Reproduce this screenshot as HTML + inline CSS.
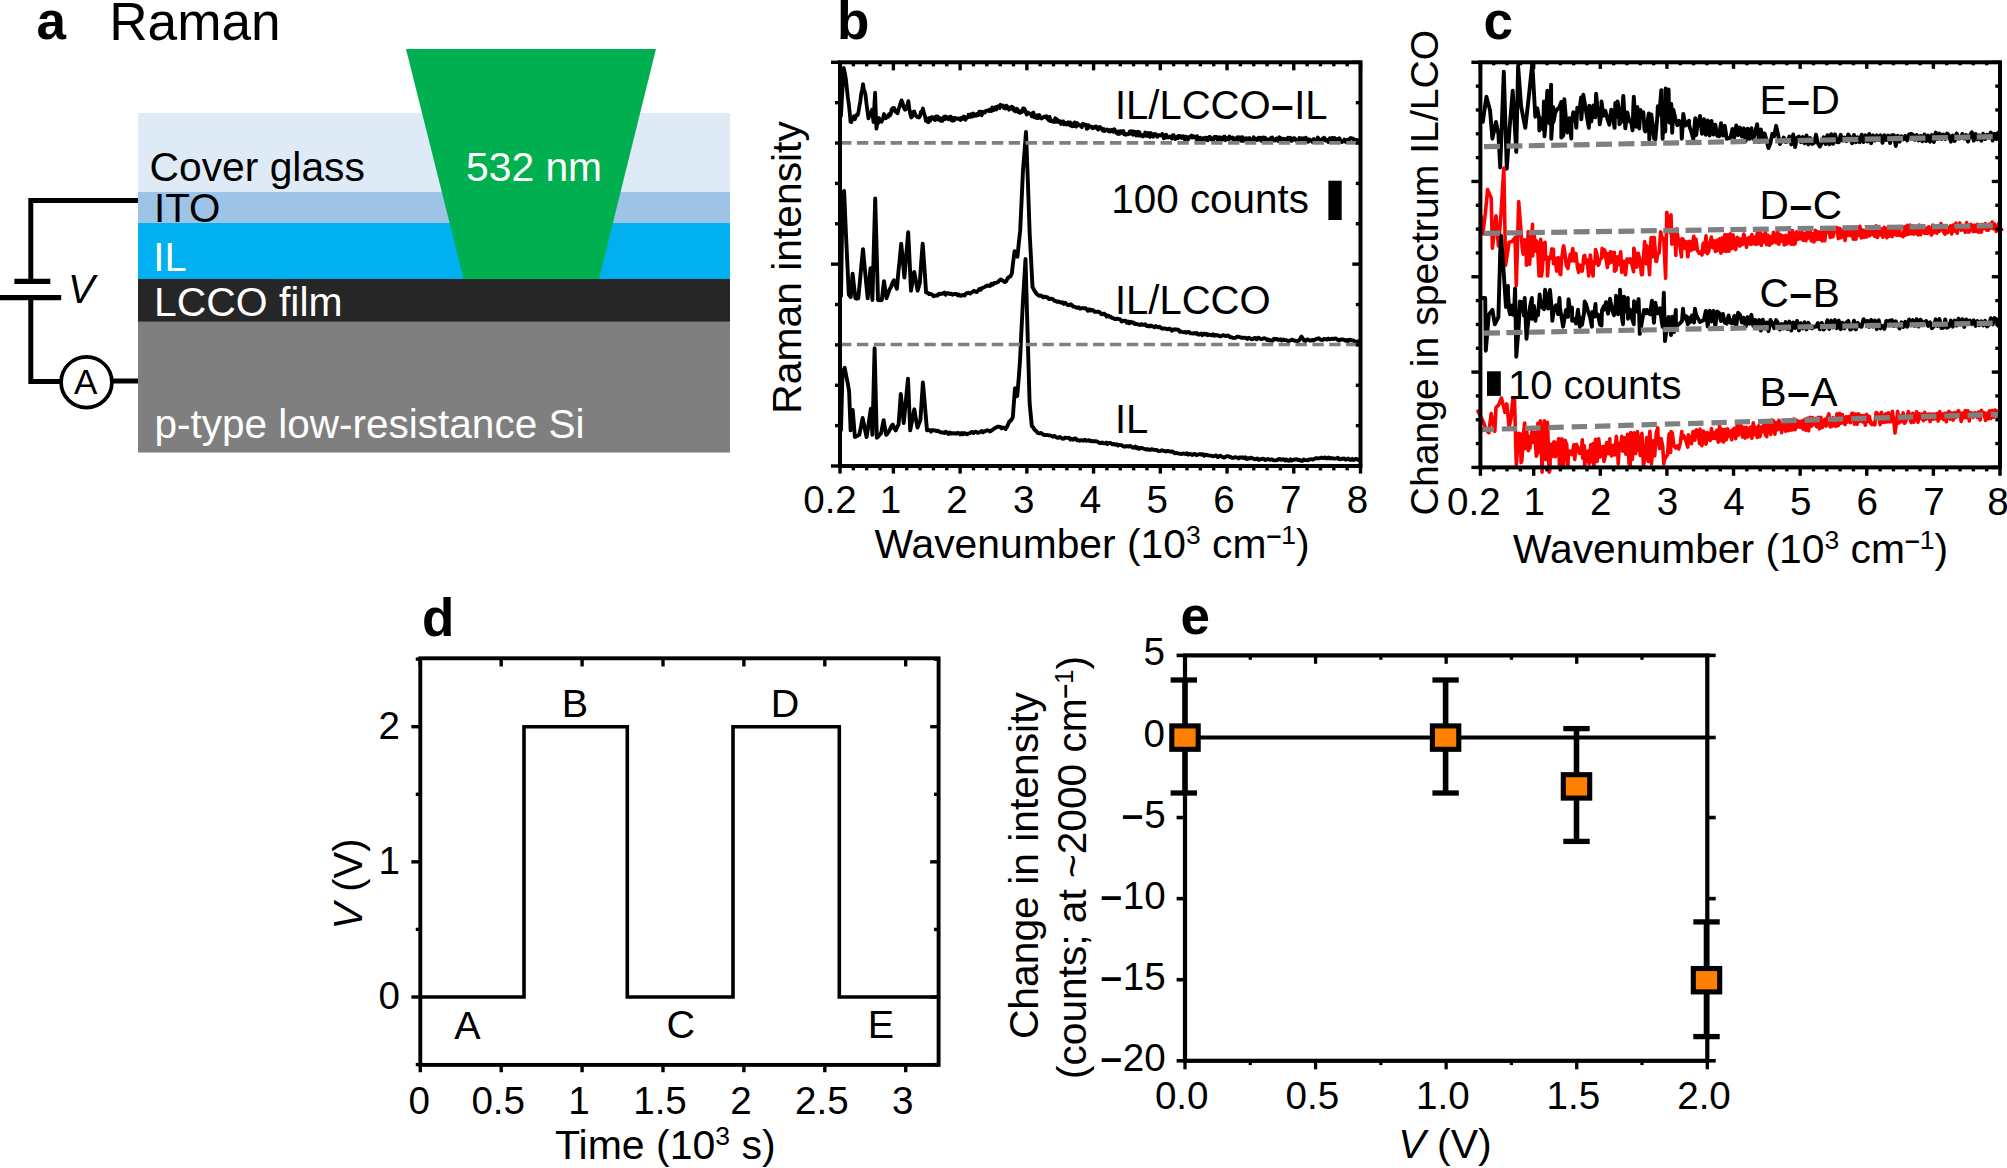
<!DOCTYPE html>
<html lang="en"><head><meta charset="utf-8"><title>Raman figure</title>
<style>html,body{margin:0;padding:0;background:#fff;}body{width:2007px;height:1168px;overflow:hidden;}svg{display:block;}</style>
</head><body>
<svg width="2007" height="1168" viewBox="0 0 2007 1168" font-family='"Liberation Sans", sans-serif'>
<rect width="2007" height="1168" fill="#fff"/>
<g id="panel-a">
<rect x="138" y="113" width="592" height="79.5" fill="#DEEAF6"/>
<rect x="138" y="192" width="592" height="31.5" fill="#9DC3E6"/>
<rect x="138" y="223" width="592" height="56" fill="#00B0F0"/>
<rect x="138" y="279" width="592" height="43" fill="#262626"/>
<rect x="138" y="321.6" width="592" height="130.9" fill="#7F7F7F"/>
<polygon points="406,49 656,49 599,279 463.6,279" fill="#00B050"/>
<path d="M138,200.5 H30.8 V281.5 M30.8,297.5 V381.5 H62 M111,381 H138" fill="none" stroke="#000" stroke-width="5"/>
<line x1="14.40" y1="281.40" x2="50.30" y2="281.40" stroke="#000" stroke-width="5.2"/>
<line x1="0.00" y1="297.60" x2="61.20" y2="297.60" stroke="#000" stroke-width="5.2"/>
<circle cx="86.5" cy="382.2" r="25.4" fill="#fff" stroke="#000" stroke-width="3.7"/>
<text x="85.6" y="394.4" font-size="35" text-anchor="middle">A</text>
<text x="68" y="303" font-size="40" font-style="italic">V</text>
<text x="36.5" y="38.8" font-size="53" font-weight="bold">a</text>
<text x="109.2" y="40.2" font-size="53.2">Raman</text>
<text x="149.5" y="181" font-size="40.8">Cover glass</text>
<text x="154" y="222" font-size="40.3">ITO</text>
<text x="153.3" y="270.7" font-size="40" fill="#fff">IL</text>
<text x="154" y="316.3" font-size="40.9" fill="#fff">LCCO film</text>
<text x="154.5" y="437.6" font-size="40.5" fill="#fff">p-type low-resistance Si</text>
<text x="466" y="180.7" font-size="40.8" fill="#fff">532 nm</text>
</g>
<g id="panel-b">
<polyline points="841.0,116.0 841.9,98.7 842.8,84.1 843.7,67.8 844.9,73.3 846.0,80.0 846.9,88.8 847.8,97.3 848.7,103.1 849.6,111.2 850.5,121.8 851.3,122.1 852.2,118.2 853.0,118.0 853.9,116.3 854.8,119.3 855.7,116.6 856.6,114.9 857.6,115.1 858.5,112.0 859.4,106.3 860.3,101.5 861.2,93.7 862.1,90.3 863.0,84.1 863.8,89.4 864.7,91.5 865.5,95.0 866.5,103.9 867.5,111.4 868.5,118.4 869.4,114.2 870.2,115.3 871.1,112.4 872.0,109.8 873.5,122.0 874.3,106.4 875.1,92.7 876.4,128.6 877.3,122.9 878.1,123.2 879.0,118.0 880.2,119.8 881.4,121.8 882.3,120.2 883.1,118.3 884.0,114.0 884.8,116.2 885.7,118.3 886.5,117.5 887.4,116.0 888.2,116.8 889.1,114.1 889.9,115.3 890.8,114.0 891.6,109.4 892.5,108.5 893.3,107.8 894.2,108.1 895.1,111.5 895.9,110.4 896.8,112.5 897.6,113.2 898.6,109.1 899.5,106.8 900.5,103.1 901.5,100.4 902.4,102.1 903.2,105.5 904.0,107.8 904.9,109.8 905.8,109.5 906.6,106.3 907.4,105.3 908.3,101.2 909.3,108.3 910.3,114.3 911.3,117.5 912.3,116.3 913.3,112.0 914.3,111.5 915.2,114.4 916.2,116.0 917.1,117.0 918.1,116.6 919.0,117.5 920.0,116.2 921.0,111.7 921.9,112.3 922.9,108.5 923.9,113.0 924.9,115.8 925.9,120.9 926.8,118.6 927.6,121.9 928.5,122.2 929.3,117.8 930.1,120.7 931.0,118.6 931.9,117.1 932.7,118.4 933.5,117.5 934.3,119.7 935.2,120.2 936.0,116.4 936.8,119.0 937.6,116.4 938.4,119.5 939.3,117.8 940.1,120.3 940.9,120.8 941.7,118.6 942.5,120.9 943.3,117.8 944.2,116.7 945.0,119.1 945.8,116.5 946.6,117.3 947.4,118.3 948.3,119.3 949.1,117.2 949.9,118.8 950.7,116.6 951.5,120.4 952.3,117.8 953.2,120.7 954.0,120.3 954.8,117.9 955.6,118.2 956.4,118.4 957.2,118.9 958.0,118.6 958.9,118.4 959.7,118.6 960.5,120.0 961.3,118.0 962.1,117.6 962.9,118.8 963.7,116.5 964.6,116.8 965.4,119.8 966.2,117.7 967.0,117.5 967.8,117.5 968.6,114.8 969.4,116.4 970.3,116.9 971.1,114.1 971.9,116.6 972.7,116.4 973.5,113.5 974.3,115.9 975.1,114.9 976.0,115.7 976.8,113.9 977.6,115.3 978.4,115.2 979.2,111.7 980.0,111.6 980.8,114.2 981.7,115.3 982.5,111.7 983.3,112.4 984.1,112.4 984.9,112.5 985.8,111.0 986.6,110.9 987.4,110.4 988.2,110.4 989.1,111.1 989.9,109.5 990.7,109.5 991.5,111.1 992.4,107.4 993.2,109.6 994.0,110.0 994.9,107.8 995.7,107.1 996.5,109.5 997.3,106.6 998.2,106.1 999.0,106.9 999.8,107.9 1000.6,104.8 1001.5,105.6 1002.3,106.1 1003.1,105.6 1004.0,108.1 1004.8,106.5 1005.7,108.6 1006.5,105.7 1007.4,106.7 1008.2,108.4 1009.1,109.7 1009.9,107.9 1010.8,107.1 1011.6,106.8 1012.5,109.0 1013.3,107.6 1014.2,110.7 1015.0,109.5 1015.9,111.4 1016.8,108.7 1017.6,109.4 1018.5,112.2 1019.4,111.7 1020.2,112.8 1021.1,111.0 1022.0,112.0 1023.0,108.5 1024.0,108.5 1025.0,109.8 1026.0,113.0 1026.8,114.6 1027.6,112.4 1028.5,112.9 1029.3,113.4 1030.1,113.7 1030.9,113.8 1031.8,116.4 1032.6,113.1 1033.4,112.6 1034.2,117.1 1035.1,117.0 1035.9,117.7 1036.7,115.4 1037.5,118.0 1038.4,118.1 1039.2,115.0 1040.0,116.5 1040.8,117.8 1041.6,118.5 1042.4,117.9 1043.2,117.4 1044.0,116.6 1044.8,117.0 1045.6,116.7 1046.4,116.2 1047.2,118.8 1048.0,117.6 1048.8,120.2 1049.6,116.9 1050.4,121.1 1051.2,120.3 1052.0,121.6 1052.8,121.7 1053.7,121.9 1054.5,120.6 1055.3,118.2 1056.1,121.8 1056.9,119.4 1057.7,120.2 1058.5,122.1 1059.3,121.6 1060.1,121.3 1060.9,124.0 1061.7,122.7 1062.5,121.6 1063.3,121.4 1064.1,124.4 1064.9,122.9 1065.7,123.2 1066.5,124.6 1067.3,122.8 1068.1,122.2 1068.9,123.9 1069.8,125.3 1070.6,122.5 1071.4,125.5 1072.2,126.2 1073.0,125.8 1073.8,126.0 1074.6,122.4 1075.4,125.4 1076.2,126.6 1077.1,123.0 1077.9,124.2 1078.7,124.3 1079.5,125.6 1080.3,125.3 1081.1,125.6 1081.9,127.2 1082.7,123.7 1083.6,124.1 1084.4,124.6 1085.2,124.7 1086.0,124.6 1086.8,128.9 1087.6,128.5 1088.4,125.1 1089.2,127.1 1090.0,126.4 1090.9,126.5 1091.7,126.8 1092.5,128.3 1093.3,128.2 1094.1,127.3 1094.9,126.6 1095.7,127.4 1096.5,126.6 1097.3,128.7 1098.2,129.6 1099.0,128.2 1099.8,126.9 1100.6,127.5 1101.4,128.5 1102.2,129.7 1103.0,130.7 1103.8,129.0 1104.6,131.0 1105.5,130.3 1106.3,129.6 1107.1,129.5 1107.9,130.2 1108.7,131.3 1109.5,130.1 1110.3,131.5 1111.1,130.5 1112.0,129.7 1112.8,131.2 1113.6,132.0 1114.4,129.3 1115.2,131.0 1116.0,131.2 1116.8,133.4 1117.6,133.8 1118.4,131.4 1119.3,133.9 1120.1,133.5 1120.9,131.2 1121.7,132.3 1122.5,132.6 1123.3,130.9 1124.1,134.2 1124.9,133.6 1125.7,134.7 1126.6,134.3 1127.4,133.8 1128.2,134.2 1129.0,133.4 1129.8,131.4 1130.6,133.7 1131.4,131.1 1132.2,131.8 1133.0,134.8 1133.9,131.5 1134.7,131.8 1135.5,131.9 1136.3,135.5 1137.1,132.4 1137.9,131.7 1138.7,135.5 1139.5,132.3 1140.4,135.7 1141.2,135.0 1142.0,135.8 1142.8,136.4 1143.6,134.7 1144.4,135.8 1145.2,132.4 1146.0,135.8 1146.8,134.7 1147.7,135.7 1148.5,133.0 1149.3,136.0 1150.1,136.9 1150.9,133.0 1151.7,134.3 1152.5,135.4 1153.3,136.7 1154.1,134.1 1155.0,133.9 1155.8,134.3 1156.6,136.0 1157.4,136.7 1158.2,135.1 1159.0,135.1 1159.8,135.3 1160.6,135.1 1161.4,135.5 1162.3,134.0 1163.1,136.0 1163.9,138.3 1164.7,135.8 1165.5,137.4 1166.3,134.7 1167.1,137.2 1167.9,137.6 1168.8,137.3 1169.6,136.7 1170.4,136.6 1171.2,137.4 1172.0,138.6 1172.8,135.2 1173.6,135.1 1174.4,138.1 1175.2,139.0 1176.1,137.2 1176.9,136.9 1177.7,138.3 1178.5,135.9 1179.3,137.4 1180.1,136.4 1180.9,136.1 1181.7,137.9 1182.5,136.6 1183.3,136.3 1184.2,138.4 1185.0,139.6 1185.8,136.6 1186.6,138.5 1187.4,137.2 1188.2,139.3 1189.0,138.0 1189.8,136.6 1190.6,136.4 1191.5,135.5 1192.3,137.6 1193.1,137.2 1193.9,136.3 1194.7,137.2 1195.5,137.0 1196.3,139.1 1197.1,136.2 1197.9,140.2 1198.7,137.8 1199.5,138.4 1200.4,137.8 1201.2,139.5 1202.0,139.5 1202.8,138.3 1203.6,138.0 1204.4,139.1 1205.2,139.7 1206.0,137.6 1206.8,139.2 1207.7,140.3 1208.5,138.0 1209.3,136.9 1210.1,137.0 1210.9,139.2 1211.7,139.1 1212.5,140.4 1213.3,139.9 1214.1,137.1 1214.9,136.9 1215.8,137.3 1216.6,136.9 1217.4,139.3 1218.2,140.1 1219.0,140.3 1219.8,137.3 1220.6,140.2 1221.4,137.7 1222.2,138.2 1223.0,139.6 1223.8,136.7 1224.7,136.7 1225.5,140.2 1226.3,137.7 1227.1,138.0 1227.9,139.1 1228.7,139.5 1229.5,136.5 1230.3,138.0 1231.1,138.5 1232.0,138.7 1232.8,137.5 1233.6,139.2 1234.4,141.0 1235.2,138.4 1236.0,138.9 1236.8,139.1 1237.6,137.2 1238.4,137.9 1239.2,139.7 1240.0,137.2 1240.8,140.7 1241.6,140.8 1242.4,137.1 1243.2,141.0 1244.0,138.4 1244.8,140.3 1245.6,140.2 1246.4,138.1 1247.2,139.8 1248.0,139.8 1248.8,140.5 1249.6,138.0 1250.5,140.2 1251.3,141.2 1252.1,139.9 1252.9,139.3 1253.7,137.3 1254.5,139.1 1255.3,138.5 1256.1,140.1 1256.9,140.0 1257.7,139.5 1258.5,137.7 1259.3,139.9 1260.1,139.8 1260.9,137.7 1261.7,141.0 1262.5,139.9 1263.3,137.5 1264.1,141.2 1264.9,137.6 1265.7,138.5 1266.5,140.3 1267.3,139.7 1268.1,139.5 1268.9,140.0 1269.7,139.1 1270.5,138.5 1271.3,137.8 1272.1,137.4 1272.9,140.3 1273.7,140.5 1274.5,139.6 1275.3,140.5 1276.1,138.7 1276.9,138.3 1277.7,138.9 1278.5,141.1 1279.4,137.3 1280.2,139.5 1281.0,138.3 1281.8,140.7 1282.6,138.8 1283.4,138.7 1284.2,139.0 1285.0,139.7 1285.8,140.8 1286.6,138.8 1287.4,141.1 1288.2,137.8 1289.0,138.5 1289.8,137.7 1290.6,137.8 1291.4,140.9 1292.2,140.6 1293.0,139.6 1293.8,138.2 1294.6,138.2 1295.4,139.2 1296.2,140.7 1297.0,141.1 1297.8,140.8 1298.6,140.1 1299.4,138.0 1300.2,139.2 1301.0,138.3 1301.8,139.8 1302.6,140.0 1303.4,138.3 1304.2,138.6 1305.0,141.0 1305.8,137.6 1306.6,141.1 1307.4,141.5 1308.2,141.8 1309.0,139.2 1309.9,140.0 1310.7,140.1 1311.5,140.4 1312.3,142.0 1313.1,140.6 1313.9,138.9 1314.7,141.5 1315.5,139.7 1316.3,140.3 1317.1,140.9 1317.9,137.5 1318.7,141.1 1319.5,140.6 1320.3,139.8 1321.1,140.0 1321.9,139.7 1322.7,138.5 1323.5,140.0 1324.3,137.8 1325.1,139.9 1325.9,140.6 1326.7,139.7 1327.5,140.2 1328.3,142.0 1329.1,141.7 1329.9,138.3 1330.7,141.3 1331.5,140.5 1332.3,137.9 1333.1,139.3 1333.9,138.8 1334.7,138.0 1335.5,140.2 1336.3,142.0 1337.1,139.2 1337.9,141.7 1338.7,140.9 1339.5,138.3 1340.3,141.7 1341.1,140.5 1342.0,142.0 1342.8,141.1 1343.6,141.2 1344.4,139.4 1345.2,141.5 1346.0,142.1 1346.8,141.8 1347.6,139.8 1348.4,141.3 1349.2,140.0 1350.0,138.3 1350.8,138.0 1351.6,138.2 1352.4,138.8 1353.2,138.6 1354.0,140.1 1354.8,141.1 1355.6,140.3 1356.4,139.8 1357.2,140.9 1358.0,140.2" fill="none" stroke="#000" stroke-width="3.8" stroke-linejoin="round" stroke-linecap="round"/>
<polyline points="841.0,296.0 842.5,200.0 844.1,190.9 846.0,235.0 847.4,264.3 848.8,294.5 850.7,297.0 852.6,273.7 854.0,285.9 855.4,298.2 856.8,298.8 858.3,298.2 859.9,281.6 861.4,264.8 863.0,249.2 864.6,266.4 866.1,282.3 867.7,298.2 869.1,282.9 870.5,268.1 872.4,300.0 873.8,248.9 875.2,198.4 876.6,249.3 878.0,300.0 879.9,300.2 881.8,300.0 884.0,281.3 886.5,298.2 888.0,293.9 889.5,289.6 891.0,287.0 892.5,283.0 894.0,280.3 895.5,285.2 896.9,288.8 898.3,272.9 899.8,258.6 901.2,243.6 902.8,259.9 904.4,277.5 906.3,254.3 908.2,232.3 909.6,260.8 911.0,290.7 912.6,281.1 914.2,271.9 915.9,280.6 917.6,290.7 919.8,283.0 921.2,262.3 922.7,243.6 924.4,267.2 926.1,292.6 927.6,292.6 929.1,294.1 930.6,293.9 932.1,294.5 933.6,296.3 934.9,295.8 936.3,295.3 937.6,295.5 939.0,293.7 940.3,294.1 941.7,293.7 943.0,293.5 944.4,292.6 945.7,294.8 947.0,293.3 948.4,293.2 949.8,294.1 951.1,293.6 952.5,294.7 953.8,294.2 955.1,293.9 956.5,293.9 957.9,295.5 959.2,294.6 960.5,295.9 961.9,295.4 963.2,294.9 964.6,295.5 965.9,293.7 967.3,293.2 968.6,292.8 970.0,293.6 971.3,292.8 972.6,291.8 974.0,290.8 975.3,291.7 976.7,292.0 978.0,290.7 979.4,289.0 980.7,289.7 982.0,288.0 983.4,287.5 984.7,287.0 986.1,286.0 987.4,285.4 988.8,286.0 990.1,285.9 991.4,283.7 992.8,284.7 994.1,282.9 995.5,283.0 996.8,282.6 998.2,281.9 999.5,280.3 1000.8,279.5 1002.1,280.3 1003.5,281.1 1004.8,282.1 1006.1,281.3 1007.5,278.5 1009.0,277.0 1010.4,276.4 1011.8,273.7 1013.2,261.6 1014.6,251.1 1016.0,253.7 1017.4,256.8 1018.8,243.2 1020.2,230.4 1021.6,200.6 1023.0,170.0 1024.5,151.9 1026.0,132.0 1028.0,185.0 1029.7,234.2 1031.1,259.8 1032.5,286.9 1034.1,290.0 1035.6,292.5 1037.2,294.5 1038.9,295.7 1040.6,295.5 1042.0,296.1 1043.3,297.4 1044.7,296.6 1046.1,297.2 1047.4,297.3 1048.8,299.0 1050.2,298.8 1051.5,298.8 1052.9,299.1 1054.3,300.8 1055.6,301.0 1057.0,301.7 1058.4,301.5 1059.7,302.2 1061.1,302.7 1062.4,302.3 1063.8,303.9 1065.1,302.7 1066.5,304.0 1067.8,305.0 1069.2,305.2 1070.5,304.3 1071.8,305.0 1073.2,306.6 1074.5,306.6 1075.9,307.4 1077.2,307.8 1078.5,307.2 1079.9,308.5 1081.2,308.5 1082.6,308.0 1083.9,308.4 1085.3,308.1 1086.6,309.2 1087.9,310.8 1089.3,309.3 1090.6,310.6 1092.0,310.0 1093.3,310.3 1094.7,311.9 1096.0,311.9 1097.3,311.8 1098.7,311.8 1100.0,312.5 1101.4,314.1 1102.7,314.4 1104.0,313.6 1105.4,314.6 1106.7,316.6 1108.1,315.5 1109.4,316.7 1110.7,316.8 1112.1,318.1 1113.4,318.2 1114.8,319.0 1116.1,319.0 1117.4,318.7 1118.8,319.1 1120.1,319.3 1121.5,321.5 1122.8,321.2 1124.1,320.6 1125.5,320.6 1126.8,322.9 1128.1,321.5 1129.4,323.2 1130.8,321.7 1132.1,322.7 1133.4,322.4 1134.7,324.0 1136.1,323.8 1137.4,324.1 1138.7,324.6 1140.0,325.0 1141.4,324.1 1142.7,324.9 1144.0,324.8 1145.3,324.3 1146.7,326.1 1148.0,325.8 1149.3,326.5 1150.6,325.4 1152.0,326.4 1153.3,326.5 1154.6,327.3 1155.9,326.1 1157.3,326.9 1158.6,327.4 1159.9,326.8 1161.2,328.1 1162.6,328.7 1163.9,328.4 1165.2,328.4 1166.6,329.1 1167.9,329.2 1169.2,328.6 1170.5,329.1 1171.9,330.7 1173.2,329.4 1174.5,329.8 1175.8,329.3 1177.2,329.7 1178.5,329.8 1179.8,331.7 1181.1,331.5 1182.5,332.0 1183.8,332.4 1185.1,331.8 1186.4,332.7 1187.8,332.0 1189.1,332.0 1190.4,333.3 1191.7,333.4 1193.1,333.7 1194.4,332.9 1195.7,333.7 1197.0,333.1 1198.4,334.6 1199.7,334.6 1201.0,333.5 1202.3,335.1 1203.7,333.6 1205.0,334.5 1206.3,333.7 1207.6,335.2 1209.0,334.4 1210.3,335.0 1211.6,335.4 1212.9,334.2 1214.3,335.8 1215.6,334.9 1216.9,335.4 1218.2,335.3 1219.5,336.3 1220.9,336.4 1222.2,335.5 1223.5,335.2 1224.8,335.8 1226.2,336.1 1227.5,335.5 1228.8,335.8 1230.1,337.2 1231.5,337.2 1232.8,337.9 1234.1,338.0 1235.4,337.9 1236.7,336.9 1238.1,336.6 1239.4,337.0 1240.7,337.5 1242.0,337.7 1243.4,337.9 1244.7,337.6 1246.0,338.0 1247.3,338.9 1248.7,337.7 1250.0,338.2 1251.3,339.2 1252.6,339.1 1254.0,338.1 1255.3,338.0 1256.6,339.4 1258.0,337.7 1259.3,338.1 1260.6,339.0 1261.9,339.1 1263.3,338.4 1264.6,338.2 1265.9,338.7 1267.3,340.0 1268.6,339.4 1269.9,340.6 1271.3,340.3 1272.6,340.8 1273.9,338.8 1275.2,339.2 1276.6,338.9 1277.9,339.9 1279.2,339.8 1280.6,339.3 1281.9,340.5 1283.2,339.5 1284.5,340.1 1285.9,340.1 1287.2,340.7 1288.5,341.3 1289.8,340.5 1291.1,340.1 1292.4,339.6 1293.8,340.4 1295.1,340.8 1296.4,340.9 1297.7,341.4 1299.0,340.5 1301.5,336.6 1304.0,340.5 1305.3,341.1 1306.7,339.7 1308.0,339.4 1309.4,340.6 1310.8,340.6 1312.1,339.9 1313.5,340.5 1314.8,339.8 1316.2,339.1 1317.5,338.7 1318.8,338.3 1320.2,339.5 1321.5,340.0 1322.9,339.9 1324.2,338.8 1325.6,339.2 1327.0,339.6 1328.3,338.6 1329.6,339.4 1330.9,339.0 1332.3,338.7 1333.6,339.1 1334.9,338.4 1336.2,338.6 1337.6,339.8 1338.9,340.6 1340.2,339.7 1341.5,339.5 1342.8,339.5 1344.2,339.8 1345.5,340.7 1346.8,340.0 1348.1,341.2 1349.4,339.6 1350.8,340.0 1352.1,340.6 1353.4,340.5 1354.7,341.5 1356.1,341.6 1357.4,341.9 1358.7,341.1" fill="none" stroke="#000" stroke-width="3.9" stroke-linejoin="round" stroke-linecap="round"/>
<polyline points="841.0,430.0 842.5,372.0 844.7,367.8 846.2,375.8 847.6,382.5 849.1,391.1 850.6,430.4 852.7,410.0 854.9,437.0 856.4,436.4 857.8,435.6 859.3,434.8 861.0,426.4 862.6,418.0 863.9,423.9 865.3,431.0 866.6,437.0 868.0,428.3 869.5,417.4 870.9,408.6 872.4,434.8 874.6,348.2 876.8,437.7 878.2,436.5 879.7,434.5 881.1,433.3 883.6,420.2 884.9,427.5 886.2,434.8 887.5,433.5 888.8,431.5 890.2,428.9 891.5,426.1 892.8,424.6 894.2,428.3 895.7,430.4 897.2,426.9 898.6,424.6 900.8,394.0 902.2,408.3 903.7,423.1 905.1,408.9 906.6,393.2 908.0,378.8 910.2,430.4 911.6,423.0 912.9,417.1 914.3,409.3 915.9,419.2 917.5,427.5 919.0,423.5 920.4,420.2 922.9,382.4 924.3,398.2 925.6,414.0 927.0,430.4 928.3,429.8 929.7,430.2 931.0,431.6 932.4,430.0 933.7,430.4 935.1,430.5 936.4,431.1 937.7,430.6 939.1,431.6 940.4,432.2 941.7,432.6 943.0,432.5 944.4,433.0 945.7,431.8 947.0,432.5 948.3,434.0 949.7,432.6 951.0,433.6 952.3,433.2 953.6,433.6 955.0,433.2 956.3,433.7 957.6,432.8 958.9,433.1 960.2,434.4 961.5,433.0 962.9,434.3 964.2,433.0 965.5,433.6 966.8,434.3 968.2,433.6 969.5,433.4 970.8,432.3 972.1,432.0 973.5,433.1 974.8,431.9 976.1,431.8 977.4,432.8 978.8,432.7 980.1,431.9 981.6,430.9 983.0,432.4 984.5,431.4 985.9,430.9 987.4,430.3 988.8,430.6 990.2,431.5 991.7,430.4 993.2,429.3 994.6,428.3 996.1,427.6 997.5,426.8 999.0,426.8 1000.3,427.0 1001.6,428.4 1003.0,427.4 1004.3,428.0 1005.6,429.0 1007.4,426.1 1009.2,421.7 1011.0,420.4 1012.8,417.3 1015.0,388.2 1017.2,396.2 1018.7,378.5 1020.1,359.1 1021.5,329.1 1023.0,300.0 1025.5,259.0 1027.5,330.0 1029.6,402.8 1031.8,426.0 1033.1,427.2 1034.4,429.7 1035.7,430.4 1037.0,432.2 1038.3,433.3 1039.6,433.2 1041.0,433.0 1042.3,433.8 1043.7,434.8 1045.0,435.1 1046.3,435.0 1047.7,435.0 1049.0,435.4 1050.4,435.5 1051.7,436.0 1053.1,436.7 1054.4,435.9 1055.7,436.8 1057.1,437.7 1058.4,437.8 1059.8,436.9 1061.1,437.7 1062.4,438.7 1063.8,438.6 1065.1,437.6 1066.4,437.9 1067.7,437.9 1069.1,437.8 1070.4,439.6 1071.7,438.7 1073.0,439.7 1074.4,438.5 1075.7,438.5 1077.0,440.2 1078.3,440.2 1079.7,440.7 1081.0,440.3 1082.3,440.2 1083.6,440.8 1085.0,439.7 1086.3,440.7 1087.6,440.6 1088.9,440.2 1090.3,441.2 1091.6,440.9 1092.9,441.4 1094.2,441.3 1095.6,441.3 1096.9,441.5 1098.2,442.1 1099.5,443.0 1100.9,443.0 1102.2,442.4 1103.5,443.3 1104.9,443.4 1106.2,442.6 1107.5,444.1 1108.8,443.0 1110.2,442.9 1111.5,443.8 1112.8,444.4 1114.1,443.9 1115.5,444.7 1116.8,444.2 1118.1,445.6 1119.4,444.9 1120.8,445.2 1122.1,445.5 1123.4,446.3 1124.7,446.7 1126.1,446.1 1127.4,446.1 1128.7,446.6 1130.0,445.8 1131.4,446.7 1132.7,447.6 1134.0,447.7 1135.3,446.6 1136.7,448.2 1138.0,447.6 1139.3,448.9 1140.6,448.0 1142.0,447.9 1143.3,448.6 1144.6,448.9 1146.0,449.6 1147.3,449.0 1148.6,449.9 1149.9,449.8 1151.3,449.3 1152.6,449.4 1153.9,449.9 1155.2,449.9 1156.6,450.0 1157.9,450.7 1159.2,451.2 1160.5,450.9 1161.9,450.3 1163.2,450.6 1164.5,451.0 1165.8,451.6 1167.2,450.9 1168.5,451.0 1169.8,451.6 1171.1,451.7 1172.5,451.4 1173.8,452.5 1175.1,453.3 1176.4,452.8 1177.8,453.3 1179.1,453.6 1180.4,453.8 1181.7,454.1 1183.1,453.4 1184.4,453.7 1185.7,454.1 1187.1,453.2 1188.4,454.7 1189.7,453.9 1191.0,454.2 1192.4,455.0 1193.7,454.0 1195.0,453.9 1196.3,455.2 1197.7,454.9 1199.0,454.1 1200.3,454.1 1201.6,454.7 1203.0,454.2 1204.3,455.8 1205.6,454.7 1206.9,455.0 1208.3,455.3 1209.6,455.6 1210.9,455.6 1212.2,456.0 1213.6,456.2 1214.9,455.9 1216.2,455.4 1217.5,457.1 1218.9,456.6 1220.2,455.7 1221.5,456.4 1222.8,457.1 1224.2,457.6 1225.5,456.8 1226.8,456.1 1228.2,456.1 1229.5,457.0 1230.8,457.0 1232.1,457.9 1233.5,457.9 1234.8,457.1 1236.1,457.4 1237.4,457.7 1238.8,458.4 1240.1,457.2 1241.4,457.7 1242.7,457.2 1244.1,458.3 1245.4,457.3 1246.7,459.0 1248.0,458.3 1249.4,458.5 1250.7,457.7 1252.0,458.1 1253.3,458.6 1254.7,459.4 1256.0,458.9 1257.3,458.5 1258.6,459.8 1260.0,459.4 1261.3,459.2 1262.6,458.7 1263.9,459.0 1265.3,460.1 1266.6,459.5 1267.9,458.9 1269.3,459.6 1270.6,459.8 1271.9,459.3 1273.2,460.1 1274.6,460.4 1275.9,460.3 1277.2,460.1 1278.5,459.2 1279.9,459.0 1281.2,459.7 1282.5,459.5 1283.8,459.3 1285.2,460.5 1286.5,459.4 1287.8,460.5 1289.1,460.7 1290.5,459.3 1291.8,460.7 1293.1,459.8 1294.4,459.5 1295.8,459.5 1297.1,459.3 1298.4,460.1 1299.7,459.9 1301.1,460.8 1302.4,460.8 1303.7,459.4 1305.0,460.1 1306.4,460.1 1307.7,460.3 1309.0,459.5 1310.3,459.4 1311.6,459.2 1312.9,459.7 1314.2,458.9 1315.6,458.2 1316.9,458.2 1318.2,458.4 1319.5,458.4 1320.8,457.6 1322.1,457.8 1323.4,458.2 1324.7,457.4 1326.0,458.3 1327.3,458.2 1328.6,457.5 1329.9,458.6 1331.2,458.0 1332.6,458.4 1333.9,458.5 1335.2,458.6 1336.5,458.4 1337.8,457.7 1339.1,459.1 1340.4,459.3 1341.7,458.7 1343.0,458.9 1344.3,458.4 1345.6,459.6 1346.9,459.3 1348.2,458.5 1349.5,459.6 1350.9,460.0 1352.2,458.9 1353.5,460.1 1354.8,459.3 1356.1,458.8 1357.4,459.8 1358.7,459.5" fill="none" stroke="#000" stroke-width="3.9" stroke-linejoin="round" stroke-linecap="round"/>
<line x1="840.00" y1="142.90" x2="1360.50" y2="142.90" stroke="#7F7F7F" stroke-width="3.6" stroke-dasharray="11.4 5.47"/>
<line x1="840.00" y1="344.50" x2="1360.50" y2="344.50" stroke="#7F7F7F" stroke-width="3.6" stroke-dasharray="11.4 5.47"/>
<rect x="840.0" y="62.3" width="520.5" height="403.7" fill="none" stroke="#000" stroke-width="4.0"/>
<line x1="840.00" y1="62.30" x2="840.00" y2="70.30" stroke="#000" stroke-width="3.4"/>
<line x1="840.00" y1="466.00" x2="840.00" y2="473.60" stroke="#000" stroke-width="3.4"/>
<line x1="853.35" y1="62.30" x2="853.35" y2="66.30" stroke="#000" stroke-width="3.4"/>
<line x1="853.35" y1="466.00" x2="853.35" y2="470.40" stroke="#000" stroke-width="3.4"/>
<line x1="866.69" y1="62.30" x2="866.69" y2="66.30" stroke="#000" stroke-width="3.4"/>
<line x1="866.69" y1="466.00" x2="866.69" y2="470.40" stroke="#000" stroke-width="3.4"/>
<line x1="880.04" y1="62.30" x2="880.04" y2="66.30" stroke="#000" stroke-width="3.4"/>
<line x1="880.04" y1="466.00" x2="880.04" y2="470.40" stroke="#000" stroke-width="3.4"/>
<line x1="893.38" y1="62.30" x2="893.38" y2="70.30" stroke="#000" stroke-width="3.4"/>
<line x1="893.38" y1="466.00" x2="893.38" y2="473.60" stroke="#000" stroke-width="3.4"/>
<line x1="906.73" y1="62.30" x2="906.73" y2="66.30" stroke="#000" stroke-width="3.4"/>
<line x1="906.73" y1="466.00" x2="906.73" y2="470.40" stroke="#000" stroke-width="3.4"/>
<line x1="920.08" y1="62.30" x2="920.08" y2="66.30" stroke="#000" stroke-width="3.4"/>
<line x1="920.08" y1="466.00" x2="920.08" y2="470.40" stroke="#000" stroke-width="3.4"/>
<line x1="933.42" y1="62.30" x2="933.42" y2="66.30" stroke="#000" stroke-width="3.4"/>
<line x1="933.42" y1="466.00" x2="933.42" y2="470.40" stroke="#000" stroke-width="3.4"/>
<line x1="946.77" y1="62.30" x2="946.77" y2="66.30" stroke="#000" stroke-width="3.4"/>
<line x1="946.77" y1="466.00" x2="946.77" y2="470.40" stroke="#000" stroke-width="3.4"/>
<line x1="960.12" y1="62.30" x2="960.12" y2="70.30" stroke="#000" stroke-width="3.4"/>
<line x1="960.12" y1="466.00" x2="960.12" y2="473.60" stroke="#000" stroke-width="3.4"/>
<line x1="973.46" y1="62.30" x2="973.46" y2="66.30" stroke="#000" stroke-width="3.4"/>
<line x1="973.46" y1="466.00" x2="973.46" y2="470.40" stroke="#000" stroke-width="3.4"/>
<line x1="986.81" y1="62.30" x2="986.81" y2="66.30" stroke="#000" stroke-width="3.4"/>
<line x1="986.81" y1="466.00" x2="986.81" y2="470.40" stroke="#000" stroke-width="3.4"/>
<line x1="1000.15" y1="62.30" x2="1000.15" y2="66.30" stroke="#000" stroke-width="3.4"/>
<line x1="1000.15" y1="466.00" x2="1000.15" y2="470.40" stroke="#000" stroke-width="3.4"/>
<line x1="1013.50" y1="62.30" x2="1013.50" y2="66.30" stroke="#000" stroke-width="3.4"/>
<line x1="1013.50" y1="466.00" x2="1013.50" y2="470.40" stroke="#000" stroke-width="3.4"/>
<line x1="1026.85" y1="62.30" x2="1026.85" y2="70.30" stroke="#000" stroke-width="3.4"/>
<line x1="1026.85" y1="466.00" x2="1026.85" y2="473.60" stroke="#000" stroke-width="3.4"/>
<line x1="1040.19" y1="62.30" x2="1040.19" y2="66.30" stroke="#000" stroke-width="3.4"/>
<line x1="1040.19" y1="466.00" x2="1040.19" y2="470.40" stroke="#000" stroke-width="3.4"/>
<line x1="1053.54" y1="62.30" x2="1053.54" y2="66.30" stroke="#000" stroke-width="3.4"/>
<line x1="1053.54" y1="466.00" x2="1053.54" y2="470.40" stroke="#000" stroke-width="3.4"/>
<line x1="1066.88" y1="62.30" x2="1066.88" y2="66.30" stroke="#000" stroke-width="3.4"/>
<line x1="1066.88" y1="466.00" x2="1066.88" y2="470.40" stroke="#000" stroke-width="3.4"/>
<line x1="1080.23" y1="62.30" x2="1080.23" y2="66.30" stroke="#000" stroke-width="3.4"/>
<line x1="1080.23" y1="466.00" x2="1080.23" y2="470.40" stroke="#000" stroke-width="3.4"/>
<line x1="1093.58" y1="62.30" x2="1093.58" y2="70.30" stroke="#000" stroke-width="3.4"/>
<line x1="1093.58" y1="466.00" x2="1093.58" y2="473.60" stroke="#000" stroke-width="3.4"/>
<line x1="1106.92" y1="62.30" x2="1106.92" y2="66.30" stroke="#000" stroke-width="3.4"/>
<line x1="1106.92" y1="466.00" x2="1106.92" y2="470.40" stroke="#000" stroke-width="3.4"/>
<line x1="1120.27" y1="62.30" x2="1120.27" y2="66.30" stroke="#000" stroke-width="3.4"/>
<line x1="1120.27" y1="466.00" x2="1120.27" y2="470.40" stroke="#000" stroke-width="3.4"/>
<line x1="1133.62" y1="62.30" x2="1133.62" y2="66.30" stroke="#000" stroke-width="3.4"/>
<line x1="1133.62" y1="466.00" x2="1133.62" y2="470.40" stroke="#000" stroke-width="3.4"/>
<line x1="1146.96" y1="62.30" x2="1146.96" y2="66.30" stroke="#000" stroke-width="3.4"/>
<line x1="1146.96" y1="466.00" x2="1146.96" y2="470.40" stroke="#000" stroke-width="3.4"/>
<line x1="1160.31" y1="62.30" x2="1160.31" y2="70.30" stroke="#000" stroke-width="3.4"/>
<line x1="1160.31" y1="466.00" x2="1160.31" y2="473.60" stroke="#000" stroke-width="3.4"/>
<line x1="1173.65" y1="62.30" x2="1173.65" y2="66.30" stroke="#000" stroke-width="3.4"/>
<line x1="1173.65" y1="466.00" x2="1173.65" y2="470.40" stroke="#000" stroke-width="3.4"/>
<line x1="1187.00" y1="62.30" x2="1187.00" y2="66.30" stroke="#000" stroke-width="3.4"/>
<line x1="1187.00" y1="466.00" x2="1187.00" y2="470.40" stroke="#000" stroke-width="3.4"/>
<line x1="1200.35" y1="62.30" x2="1200.35" y2="66.30" stroke="#000" stroke-width="3.4"/>
<line x1="1200.35" y1="466.00" x2="1200.35" y2="470.40" stroke="#000" stroke-width="3.4"/>
<line x1="1213.69" y1="62.30" x2="1213.69" y2="66.30" stroke="#000" stroke-width="3.4"/>
<line x1="1213.69" y1="466.00" x2="1213.69" y2="470.40" stroke="#000" stroke-width="3.4"/>
<line x1="1227.04" y1="62.30" x2="1227.04" y2="70.30" stroke="#000" stroke-width="3.4"/>
<line x1="1227.04" y1="466.00" x2="1227.04" y2="473.60" stroke="#000" stroke-width="3.4"/>
<line x1="1240.38" y1="62.30" x2="1240.38" y2="66.30" stroke="#000" stroke-width="3.4"/>
<line x1="1240.38" y1="466.00" x2="1240.38" y2="470.40" stroke="#000" stroke-width="3.4"/>
<line x1="1253.73" y1="62.30" x2="1253.73" y2="66.30" stroke="#000" stroke-width="3.4"/>
<line x1="1253.73" y1="466.00" x2="1253.73" y2="470.40" stroke="#000" stroke-width="3.4"/>
<line x1="1267.08" y1="62.30" x2="1267.08" y2="66.30" stroke="#000" stroke-width="3.4"/>
<line x1="1267.08" y1="466.00" x2="1267.08" y2="470.40" stroke="#000" stroke-width="3.4"/>
<line x1="1280.42" y1="62.30" x2="1280.42" y2="66.30" stroke="#000" stroke-width="3.4"/>
<line x1="1280.42" y1="466.00" x2="1280.42" y2="470.40" stroke="#000" stroke-width="3.4"/>
<line x1="1293.77" y1="62.30" x2="1293.77" y2="70.30" stroke="#000" stroke-width="3.4"/>
<line x1="1293.77" y1="466.00" x2="1293.77" y2="473.60" stroke="#000" stroke-width="3.4"/>
<line x1="1307.12" y1="62.30" x2="1307.12" y2="66.30" stroke="#000" stroke-width="3.4"/>
<line x1="1307.12" y1="466.00" x2="1307.12" y2="470.40" stroke="#000" stroke-width="3.4"/>
<line x1="1320.46" y1="62.30" x2="1320.46" y2="66.30" stroke="#000" stroke-width="3.4"/>
<line x1="1320.46" y1="466.00" x2="1320.46" y2="470.40" stroke="#000" stroke-width="3.4"/>
<line x1="1333.81" y1="62.30" x2="1333.81" y2="66.30" stroke="#000" stroke-width="3.4"/>
<line x1="1333.81" y1="466.00" x2="1333.81" y2="470.40" stroke="#000" stroke-width="3.4"/>
<line x1="1347.15" y1="62.30" x2="1347.15" y2="66.30" stroke="#000" stroke-width="3.4"/>
<line x1="1347.15" y1="466.00" x2="1347.15" y2="470.40" stroke="#000" stroke-width="3.4"/>
<line x1="1360.50" y1="62.30" x2="1360.50" y2="70.30" stroke="#000" stroke-width="3.4"/>
<line x1="1360.50" y1="466.00" x2="1360.50" y2="473.60" stroke="#000" stroke-width="3.4"/>
<line x1="840.00" y1="62.30" x2="831.00" y2="62.30" stroke="#000" stroke-width="3.4"/>
<line x1="1360.50" y1="62.30" x2="1352.30" y2="62.30" stroke="#000" stroke-width="3.4"/>
<line x1="840.00" y1="102.67" x2="835.00" y2="102.67" stroke="#000" stroke-width="3.4"/>
<line x1="1360.50" y1="102.67" x2="1355.80" y2="102.67" stroke="#000" stroke-width="3.4"/>
<line x1="840.00" y1="143.04" x2="835.00" y2="143.04" stroke="#000" stroke-width="3.4"/>
<line x1="1360.50" y1="143.04" x2="1355.80" y2="143.04" stroke="#000" stroke-width="3.4"/>
<line x1="840.00" y1="183.41" x2="835.00" y2="183.41" stroke="#000" stroke-width="3.4"/>
<line x1="1360.50" y1="183.41" x2="1355.80" y2="183.41" stroke="#000" stroke-width="3.4"/>
<line x1="840.00" y1="223.78" x2="835.00" y2="223.78" stroke="#000" stroke-width="3.4"/>
<line x1="1360.50" y1="223.78" x2="1355.80" y2="223.78" stroke="#000" stroke-width="3.4"/>
<line x1="840.00" y1="264.15" x2="831.00" y2="264.15" stroke="#000" stroke-width="3.4"/>
<line x1="1360.50" y1="264.15" x2="1352.30" y2="264.15" stroke="#000" stroke-width="3.4"/>
<line x1="840.00" y1="304.52" x2="835.00" y2="304.52" stroke="#000" stroke-width="3.4"/>
<line x1="1360.50" y1="304.52" x2="1355.80" y2="304.52" stroke="#000" stroke-width="3.4"/>
<line x1="840.00" y1="344.89" x2="835.00" y2="344.89" stroke="#000" stroke-width="3.4"/>
<line x1="1360.50" y1="344.89" x2="1355.80" y2="344.89" stroke="#000" stroke-width="3.4"/>
<line x1="840.00" y1="385.26" x2="835.00" y2="385.26" stroke="#000" stroke-width="3.4"/>
<line x1="1360.50" y1="385.26" x2="1355.80" y2="385.26" stroke="#000" stroke-width="3.4"/>
<line x1="840.00" y1="425.63" x2="835.00" y2="425.63" stroke="#000" stroke-width="3.4"/>
<line x1="1360.50" y1="425.63" x2="1355.80" y2="425.63" stroke="#000" stroke-width="3.4"/>
<line x1="840.00" y1="466.00" x2="831.00" y2="466.00" stroke="#000" stroke-width="3.4"/>
<line x1="1360.50" y1="466.00" x2="1352.30" y2="466.00" stroke="#000" stroke-width="3.4"/>
<text x="837" y="39" font-size="53" font-weight="bold">b</text>
<text x="830" y="512.6" font-size="38.6" text-anchor="middle">0.2</text>
<text x="890.4" y="512.6" font-size="38.6" text-anchor="middle">1</text>
<text x="957.1" y="512.6" font-size="38.6" text-anchor="middle">2</text>
<text x="1023.8" y="512.6" font-size="38.6" text-anchor="middle">3</text>
<text x="1090.6" y="512.6" font-size="38.6" text-anchor="middle">4</text>
<text x="1157.3" y="512.6" font-size="38.6" text-anchor="middle">5</text>
<text x="1224.0" y="512.6" font-size="38.6" text-anchor="middle">6</text>
<text x="1290.8" y="512.6" font-size="38.6" text-anchor="middle">7</text>
<text x="1357.5" y="512.6" font-size="38.6" text-anchor="middle">8</text>
<text x="1092" y="557.6" font-size="40.8" text-anchor="middle">Wavenumber (10<tspan font-size="26.5" dy="-14">3</tspan><tspan dy="14"> cm</tspan><tspan font-size="26.5" dy="-14"><tspan font-weight="bold">–</tspan>1</tspan><tspan dy="14">)</tspan></text>
<text x="800.8" y="267.4" font-size="40.8" text-anchor="middle" transform="rotate(-90 800.8 267.4)">Raman intensity</text>
<text x="1115" y="119.4" font-size="40">IL/LCCO<tspan font-weight="bold" dx="0.6">–</tspan><tspan dx="0.8">IL</tspan></text>
<text x="1115" y="314" font-size="40">IL/LCCO</text>
<text x="1115" y="433.2" font-size="40">IL</text>
<text x="1111.3" y="213.2" font-size="40.4">100 counts</text>
<rect x="1328.4" y="180.7" width="13.3" height="39.3" fill="#000"/>
</g>
<g id="panel-c">
<polyline points="1482.8,121.9 1486.4,96.8 1490.0,109.9 1492.4,138.7 1496.0,121.9 1498.4,133.9 1500.2,167.5 1503.8,71.6 1506.8,168.7 1509.7,126.7 1512.7,90.8 1516.3,151.9 1518.1,65.6 1521.1,106.3 1525.3,127.9 1528.3,101.5 1532.3,63.2 1535.3,116.7 1535.5,109.9 1537.3,108.4 1539.1,118.3 1539.3,130.5 1541.3,118.4 1543.3,129.5 1543.9,101.5 1544.5,136.3 1545.3,127.2 1547.3,90.8 1549.3,123.2 1551.1,84.8 1551.3,138.8 1553.3,107.3 1553.5,121.9 1555.3,112.4 1557.3,109.2 1559.3,107.5 1561.3,102.0 1561.3,137.5 1563.3,135.5 1564.3,99.1 1565.3,111.6 1567.3,132.5 1569.3,118.3 1571.3,138.5 1571.5,124.3 1573.3,112.3 1575.3,114.8 1576.3,127.9 1577.3,107.6 1579.3,111.8 1581.1,97.4 1581.3,119.4 1583.3,94.8 1585.3,106.5 1587.3,119.0 1588.9,127.9 1589.3,105.7 1591.3,121.6 1593.3,105.5 1595.3,117.4 1596.1,93.8 1597.3,106.8 1599.3,115.6 1599.7,124.3 1601.3,115.2 1601.5,101.5 1603.3,115.9 1605.3,110.8 1607.3,118.6 1609.3,124.7 1611.3,109.6 1613.3,119.3 1614.6,127.9 1615.3,103.0 1617.3,116.9 1617.6,101.5 1619.3,114.2 1619.4,124.3 1621.3,121.7 1623.3,95.9 1625.3,128.4 1627.3,112.5 1629.3,121.0 1631.3,122.9 1632.6,130.3 1633.3,107.6 1633.8,96.8 1635.3,119.9 1636.2,126.7 1637.3,106.9 1639.3,128.6 1640.4,109.9 1641.3,115.5 1643.3,112.2 1644.6,130.3 1645.3,131.5 1647.3,123.2 1648.8,113.5 1649.3,139.5 1651.3,114.4 1653.3,129.9 1654.2,138.7 1655.3,139.5 1657.3,117.5 1657.8,106.3 1659.3,114.6 1661.3,90.1 1662.6,138.7 1663.3,122.6 1665.3,131.5 1665.6,88.4 1667.3,90.6 1668.6,89.6 1669.3,122.5 1671.3,104.0 1672.2,132.7 1673.3,110.0 1673.4,109.9 1675.3,118.2 1677.3,125.2 1679.3,120.9 1681.3,126.0 1681.8,138.7 1683.3,113.9 1685.3,125.6 1687.3,123.1 1689.0,120.7 1689.3,126.1 1691.3,131.7 1693.3,139.3 1695.3,118.2 1696.2,135.1 1697.3,126.4 1699.3,120.2 1700.0,115.9 1702.0,133.8 1703.9,119.2 1705.8,134.8 1707.7,120.4 1709.6,135.5 1711.5,120.9 1713.4,134.5 1715.3,124.6 1717.2,135.6 1719.1,136.3 1721.0,123.2 1722.9,135.6 1724.8,125.8 1726.7,138.7 1728.6,138.4 1730.5,137.7 1732.4,129.0 1734.3,137.5 1736.2,125.5 1738.1,135.1 1740.0,127.6 1741.9,136.5 1743.8,128.3 1745.7,141.0 1747.6,128.8 1749.5,138.8 1751.4,128.1 1753.3,139.0 1755.2,131.9 1757.1,124.2 1759.0,142.1 1760.9,129.4 1762.8,139.0 1764.7,133.5 1766.6,140.7 1768.5,148.0 1770.4,143.2 1772.3,133.8 1774.2,136.2 1776.1,125.8 1778.0,134.2 1779.9,144.0 1781.8,141.2 1783.7,137.6 1785.6,142.1 1787.5,141.5 1789.4,136.6 1791.3,144.4 1793.2,134.5 1795.1,147.0 1797.0,137.9 1798.9,136.6 1800.8,142.1 1802.7,137.1 1804.6,143.4 1806.5,135.4 1808.4,144.4 1810.3,138.1 1812.2,144.0 1814.1,142.9 1816.0,134.6 1817.9,143.3 1819.8,146.5 1821.7,142.8 1823.6,137.3 1825.5,144.1 1827.4,135.2 1829.3,144.4 1831.2,134.1 1833.1,143.9 1835.0,134.3 1836.9,142.0 1838.8,142.3 1840.7,134.8 1842.6,140.6 1844.5,137.6 1846.4,141.1 1848.3,134.6 1850.2,137.1 1852.1,143.2 1854.0,134.9 1855.9,142.2 1857.8,137.2 1859.7,142.2 1861.6,134.7 1863.5,142.1 1865.4,135.3 1867.3,141.5 1869.2,133.9 1871.1,143.2 1873.0,135.3 1874.9,140.6 1876.8,135.3 1878.7,139.9 1880.6,135.2 1882.5,142.8 1884.4,135.2 1886.3,139.9 1888.2,135.5 1890.1,143.1 1892.0,135.2 1893.9,135.3 1895.8,146.0 1897.7,135.7 1899.6,141.7 1901.5,136.3 1903.4,139.4 1905.3,135.9 1907.2,140.4 1909.1,134.4 1911.0,133.9 1912.9,134.7 1914.8,139.8 1916.7,134.9 1918.6,140.5 1920.5,135.9 1922.4,141.3 1924.3,134.5 1926.2,141.1 1928.1,135.5 1930.0,141.8 1931.9,135.1 1933.8,142.1 1935.7,132.6 1937.6,139.1 1939.5,133.5 1941.4,138.9 1943.3,134.6 1945.2,138.9 1947.1,133.5 1949.0,135.3 1950.9,141.7 1952.8,135.5 1954.7,141.0 1956.6,133.4 1958.5,138.5 1960.4,138.3 1962.3,133.9 1964.2,138.6 1966.1,135.0 1968.0,141.6 1969.9,135.3 1971.8,132.2 1973.7,140.6 1975.6,133.9 1977.5,139.4 1979.4,135.4 1981.3,140.7 1983.2,133.8 1985.1,139.1 1987.0,134.8 1988.9,137.7 1990.8,132.5 1992.7,140.5 1994.6,133.8 1996.5,139.2 1998.4,132.4" fill="none" stroke="#000" stroke-width="3.9" stroke-linejoin="round" stroke-linecap="round"/>
<polyline points="1481.0,215.9 1482.8,233.9 1485.2,214.6 1487.6,189.6 1491.2,198.0 1492.4,248.3 1496.0,215.9 1498.4,245.9 1500.8,217.1 1503.8,168.0 1505.6,265.1 1509.1,242.3 1512.1,241.6 1515.1,237.5 1516.3,285.5 1518.7,201.5 1522.3,248.3 1523.1,254.1 1524.7,239.8 1526.3,256.2 1526.5,265.1 1527.9,237.6 1528.3,231.5 1529.5,264.3 1531.1,243.9 1532.5,224.3 1532.7,255.9 1534.3,235.6 1535.9,251.1 1536.7,241.1 1537.5,245.9 1539.1,275.9 1540.7,239.3 1541.5,275.9 1542.3,269.9 1543.9,243.5 1545.1,242.3 1545.5,259.1 1547.1,256.9 1547.5,275.9 1548.7,259.4 1550.3,258.7 1551.9,248.9 1553.5,249.5 1553.5,263.8 1555.1,258.0 1556.7,271.1 1558.3,257.6 1559.9,273.7 1560.7,274.7 1561.5,259.9 1563.1,248.4 1563.7,245.9 1564.7,251.9 1566.3,265.5 1567.9,268.5 1569.5,258.0 1570.3,254.3 1571.1,260.9 1572.7,248.6 1574.3,260.9 1575.9,253.4 1577.5,267.5 1578.7,272.3 1579.1,264.8 1580.7,266.1 1582.3,271.1 1583.9,256.0 1584.7,255.5 1585.5,262.7 1587.1,260.1 1588.7,275.9 1590.3,255.0 1591.9,268.5 1593.1,275.9 1593.5,261.7 1595.1,263.7 1595.5,249.5 1596.7,252.9 1598.3,265.3 1599.1,263.9 1599.9,259.6 1601.5,258.4 1602.1,248.3 1603.1,256.1 1604.7,249.9 1606.3,260.9 1607.4,267.5 1607.9,253.5 1609.5,263.2 1610.4,251.9 1611.1,251.9 1612.7,262.3 1614.3,252.3 1614.6,271.1 1615.9,270.3 1617.5,256.7 1619.1,264.7 1620.7,251.7 1621.8,272.3 1622.3,267.6 1623.9,261.3 1625.5,274.7 1627.1,258.8 1628.7,262.2 1630.3,258.9 1631.9,264.1 1633.5,271.7 1633.8,248.3 1635.1,253.6 1636.7,267.2 1638.3,253.2 1639.9,260.8 1641.5,274.7 1642.2,274.7 1643.1,261.8 1644.7,241.6 1646.3,263.7 1647.0,245.9 1647.9,252.1 1649.5,274.7 1651.1,237.5 1652.7,256.7 1653.0,237.5 1654.3,237.5 1655.9,261.5 1656.6,261.5 1657.5,254.5 1659.1,253.0 1660.7,231.8 1662.3,239.0 1663.8,238.7 1665.6,278.3 1666.8,212.3 1670.3,232.6 1671.0,214.7 1671.9,244.2 1672.8,243.5 1673.5,230.0 1675.1,236.5 1675.8,255.5 1676.7,228.9 1678.3,239.9 1679.9,245.7 1681.5,256.7 1681.8,238.7 1683.1,239.4 1684.7,248.2 1686.3,241.6 1687.8,256.7 1687.9,256.7 1689.5,241.3 1691.1,250.4 1692.7,242.2 1693.8,236.3 1694.3,249.2 1695.9,239.1 1697.5,250.6 1699.1,253.2 1700.0,251.9 1702.0,254.9 1703.3,243.0 1704.7,252.0 1706.0,235.8 1707.4,253.6 1708.7,251.5 1710.1,241.9 1711.4,237.0 1712.8,247.7 1714.1,241.1 1715.5,251.5 1716.8,240.3 1718.2,250.2 1719.5,238.8 1720.9,253.1 1722.2,237.8 1723.6,251.0 1724.9,234.6 1726.3,251.4 1727.6,234.8 1729.0,251.1 1730.3,233.9 1731.7,248.6 1733.0,234.8 1734.4,247.6 1735.7,249.6 1737.1,237.3 1738.4,238.4 1739.8,246.1 1741.1,239.1 1742.5,244.6 1743.8,234.0 1745.2,238.7 1746.5,247.2 1747.9,238.6 1749.2,237.5 1750.6,244.5 1751.9,234.6 1753.3,243.8 1754.6,237.1 1756.0,244.4 1757.3,232.7 1758.7,243.8 1760.0,231.9 1761.4,245.4 1762.7,234.5 1764.1,242.0 1765.4,232.3 1766.8,244.7 1768.1,235.4 1769.5,245.3 1770.8,236.8 1772.2,243.2 1773.5,232.3 1774.9,241.7 1776.2,242.5 1777.6,231.0 1778.9,244.2 1780.3,234.5 1781.6,241.0 1783.0,235.9 1784.3,244.9 1785.7,235.2 1787.0,243.9 1788.4,242.3 1789.7,229.7 1791.1,244.3 1792.4,230.5 1793.8,244.4 1795.1,243.7 1796.5,231.7 1797.8,239.5 1799.2,232.8 1800.5,238.8 1801.9,231.8 1803.2,240.3 1804.6,233.7 1805.9,240.7 1807.3,229.4 1808.6,237.9 1810.0,230.0 1811.3,240.9 1812.7,233.8 1814.0,242.0 1815.4,230.2 1816.7,239.4 1818.1,231.9 1819.4,239.3 1820.8,231.9 1822.1,241.0 1823.5,228.0 1824.8,240.7 1826.2,228.6 1827.5,232.2 1828.9,229.2 1830.2,237.4 1831.6,228.3 1832.9,236.7 1834.3,231.7 1835.6,230.3 1837.0,227.6 1838.3,238.6 1839.7,228.2 1841.0,237.7 1842.4,230.0 1843.7,230.0 1845.1,240.5 1846.4,228.5 1847.8,235.3 1849.1,230.0 1850.5,235.6 1851.8,229.0 1853.2,239.1 1854.5,230.7 1855.9,239.3 1857.2,229.5 1858.6,235.3 1859.9,226.2 1861.3,238.0 1862.6,230.1 1864.0,237.4 1865.3,230.5 1866.7,237.0 1868.0,229.2 1869.4,235.8 1870.7,230.0 1872.1,234.5 1873.4,227.8 1874.8,236.5 1876.1,225.9 1877.5,237.5 1878.8,229.6 1880.2,234.8 1881.5,228.9 1882.9,237.3 1884.2,227.3 1885.6,229.7 1886.9,237.8 1888.3,226.6 1889.6,236.1 1891.0,227.8 1892.3,236.6 1893.7,233.6 1895.0,228.7 1896.4,235.2 1897.7,234.9 1899.1,226.6 1900.4,235.4 1901.8,235.4 1903.1,236.7 1904.5,226.9 1905.8,235.0 1907.2,225.4 1908.5,234.2 1909.9,225.0 1911.2,233.7 1912.6,226.1 1913.9,234.2 1915.3,226.6 1916.6,233.1 1918.0,234.9 1919.3,225.1 1920.7,234.8 1922.0,225.7 1923.4,227.8 1924.7,233.5 1926.1,228.0 1927.4,233.5 1928.8,226.7 1930.1,232.1 1931.5,235.0 1932.8,225.0 1934.2,232.7 1935.5,226.9 1936.9,233.2 1938.2,227.3 1939.6,231.1 1940.9,223.5 1942.3,226.5 1943.6,231.8 1945.0,234.2 1946.3,225.7 1947.7,232.7 1949.0,230.3 1950.4,225.9 1951.7,234.0 1953.1,225.0 1954.4,231.1 1955.8,223.1 1957.1,233.2 1958.5,224.8 1959.8,223.0 1961.2,230.3 1962.5,225.8 1963.9,229.5 1965.2,232.3 1966.6,222.6 1967.9,232.0 1969.3,231.9 1970.6,224.3 1972.0,225.2 1973.3,231.7 1974.7,225.2 1976.0,231.3 1977.4,224.3 1978.7,232.1 1980.1,224.8 1981.4,232.1 1982.8,224.4 1984.1,228.5 1985.5,223.7 1986.8,230.2 1988.2,230.3 1989.5,224.2 1990.9,228.1 1992.2,222.1 1993.6,228.8 1994.9,224.2 1996.3,231.4 1997.6,229.2 1999.0,223.2 2000.3,229.2 2001.7,229.5" fill="none" stroke="#FF0000" stroke-width="3.6" stroke-linejoin="round" stroke-linecap="round"/>
<polyline points="1482.8,298.0 1485.2,298.0 1485.8,350.7 1488.8,314.7 1492.4,309.9 1494.8,324.3 1498.4,317.1 1500.2,253.6 1501.0,235.6 1503.8,274.0 1506.0,307.0 1508.0,286.0 1508.0,292.2 1509.1,309.9 1510.0,314.2 1512.0,305.6 1512.7,314.7 1514.0,312.4 1515.1,288.4 1516.3,356.7 1518.7,326.7 1519.9,301.5 1520.0,305.8 1522.0,302.1 1524.0,315.6 1524.7,298.0 1526.5,338.7 1528.9,314.7 1530.0,307.0 1531.9,298.0 1532.0,318.9 1534.0,306.0 1535.5,320.7 1536.0,315.2 1538.0,315.3 1539.7,294.4 1540.0,298.1 1542.0,307.0 1544.0,309.2 1545.1,289.6 1546.0,297.4 1548.0,308.5 1548.7,298.0 1550.0,289.9 1552.0,312.6 1552.3,320.7 1554.0,308.3 1556.0,305.3 1558.0,314.1 1559.5,298.0 1560.0,308.0 1563.1,326.7 1566.0,310.0 1568.0,316.9 1568.5,299.1 1570.0,309.7 1572.0,307.5 1572.1,320.7 1574.0,318.8 1576.0,323.5 1578.0,309.8 1579.9,326.7 1580.0,317.4 1582.0,324.8 1584.0,313.4 1584.7,301.5 1586.0,304.1 1588.0,311.3 1590.0,316.8 1591.9,326.7 1592.0,311.9 1594.0,316.4 1595.5,303.9 1596.0,316.4 1598.0,314.6 1600.0,324.6 1601.5,325.5 1602.0,310.1 1603.9,306.3 1604.0,309.7 1606.0,302.2 1608.0,313.7 1610.0,298.7 1612.0,309.8 1614.0,315.2 1615.8,302.7 1616.0,295.8 1618.0,314.3 1620.0,300.6 1620.0,289.6 1622.0,318.1 1623.0,324.3 1624.0,296.6 1626.0,311.4 1627.8,298.0 1628.0,318.7 1630.0,309.5 1632.0,318.4 1633.8,324.3 1634.0,301.2 1636.0,311.6 1638.6,299.1 1639.8,333.9 1644.0,309.9 1646.0,313.4 1647.0,309.9 1648.0,312.7 1650.0,314.3 1652.0,300.7 1654.0,322.7 1655.4,302.7 1656.0,306.5 1658.0,313.4 1660.0,308.3 1662.0,323.3 1662.6,326.7 1663.8,292.6 1665.0,341.1 1668.0,318.4 1668.6,317.1 1670.0,323.3 1671.0,335.1 1672.0,316.8 1674.0,332.0 1675.8,309.9 1676.0,325.7 1678.0,324.9 1680.0,323.3 1682.0,321.0 1683.0,308.7 1684.0,318.6 1686.0,316.0 1687.8,324.3 1688.0,317.4 1690.0,322.2 1692.0,315.4 1694.0,322.6 1695.0,308.7 1696.0,314.7 1698.0,318.6 1700.0,321.9 1702.0,321.0 1703.9,319.8 1705.8,311.0 1707.7,326.6 1709.6,310.6 1711.5,321.5 1713.4,310.9 1715.3,326.2 1717.2,311.5 1719.1,313.0 1721.0,321.0 1722.9,314.0 1724.8,322.7 1726.7,323.6 1728.6,315.5 1730.5,322.7 1732.4,323.5 1734.3,316.0 1736.2,326.0 1738.1,312.7 1740.0,314.8 1741.9,322.5 1743.8,317.8 1745.7,326.5 1747.6,317.1 1749.5,323.7 1751.4,314.8 1753.3,325.8 1755.2,319.9 1757.1,328.4 1759.0,319.9 1760.9,330.6 1762.8,319.6 1764.7,328.5 1766.6,322.4 1768.5,331.2 1770.4,320.0 1772.3,323.5 1774.2,328.2 1776.1,320.1 1778.0,323.3 1779.9,329.6 1781.8,324.0 1783.7,328.4 1785.6,322.0 1787.5,328.9 1789.4,321.6 1791.3,330.6 1793.2,322.5 1795.1,327.9 1797.0,321.0 1798.9,330.4 1800.8,323.2 1802.7,328.5 1804.6,322.3 1806.5,329.4 1808.4,322.8 1810.3,327.7 1812.2,328.4 1814.1,326.6 1816.0,326.7 1817.9,323.1 1819.8,329.3 1821.7,322.9 1823.6,329.6 1825.5,327.2 1827.4,320.3 1829.3,328.9 1831.2,320.6 1833.1,327.4 1835.0,320.1 1836.9,328.2 1838.8,320.6 1840.7,329.2 1842.6,322.8 1844.5,328.5 1846.4,322.5 1848.3,320.9 1850.2,329.6 1852.1,328.5 1854.0,320.7 1855.9,329.4 1857.8,322.9 1859.7,326.1 1861.6,326.8 1863.5,319.2 1865.4,321.8 1867.3,320.9 1869.2,327.0 1871.1,319.9 1873.0,326.6 1874.9,320.5 1876.8,329.2 1878.7,320.2 1880.6,328.4 1882.5,326.0 1884.4,328.9 1886.3,320.9 1888.2,321.5 1890.1,320.6 1892.0,320.3 1893.9,326.1 1895.8,321.3 1897.7,325.3 1899.6,328.5 1901.5,322.3 1903.4,326.9 1905.3,321.8 1907.2,326.8 1909.1,319.5 1911.0,325.2 1912.9,320.0 1914.8,325.9 1916.7,319.2 1918.6,326.5 1920.5,319.7 1922.4,322.2 1924.3,321.9 1926.2,321.0 1928.1,325.9 1930.0,322.2 1931.9,328.2 1933.8,326.6 1935.7,319.3 1937.6,326.0 1939.5,319.1 1941.4,328.1 1943.3,327.9 1945.2,319.5 1947.1,327.7 1949.0,326.5 1950.9,320.6 1952.8,326.7 1954.7,320.6 1956.6,325.6 1958.5,318.7 1960.4,324.6 1962.3,319.2 1964.2,326.9 1966.1,319.4 1968.0,321.4 1969.9,320.5 1971.8,324.1 1973.7,320.3 1975.6,325.9 1977.5,321.0 1979.4,325.1 1981.3,321.3 1983.2,325.5 1985.1,320.8 1987.0,326.4 1988.9,324.8 1990.8,318.2 1992.7,324.5 1994.6,318.0 1996.5,319.3 1998.4,326.0" fill="none" stroke="#000" stroke-width="3.9" stroke-linejoin="round" stroke-linecap="round"/>
<polyline points="1478.0,411.1 1481.6,418.3 1484.0,423.8 1486.4,430.2 1488.8,432.7 1491.2,413.5 1494.8,431.5 1496.0,407.5 1498.7,404.9 1501.4,398.0 1505.0,412.3 1506.8,403.9 1509.1,426.7 1510.9,419.5 1512.7,400.3 1514.5,399.1 1516.3,465.1 1517.1,454.4 1518.7,433.9 1518.7,433.3 1520.3,434.0 1521.1,462.7 1521.9,460.5 1523.5,433.3 1524.7,423.1 1525.1,448.6 1526.7,430.1 1528.3,450.7 1528.3,436.6 1529.9,448.4 1531.5,433.7 1531.9,431.5 1533.1,442.4 1534.7,432.3 1536.3,456.2 1537.9,451.9 1537.9,423.2 1539.5,451.9 1540.3,420.7 1541.1,440.5 1542.1,472.3 1542.7,449.4 1544.3,420.7 1545.9,459.7 1547.5,435.1 1547.5,422.2 1549.1,472.3 1549.9,469.9 1550.7,444.1 1552.3,456.5 1553.9,441.8 1554.7,442.3 1555.5,456.8 1557.1,447.2 1558.7,438.8 1559.5,467.5 1560.3,458.2 1561.9,438.7 1561.9,447.9 1563.5,467.5 1565.1,440.3 1566.7,444.5 1567.9,466.3 1568.3,454.3 1569.9,451.2 1571.5,454.6 1573.1,448.9 1573.9,444.7 1574.7,459.5 1576.3,444.2 1577.9,447.7 1579.5,453.5 1581.1,452.4 1582.3,439.9 1582.7,458.3 1584.3,445.9 1584.7,466.3 1585.9,453.8 1587.5,451.2 1589.1,463.7 1590.7,444.7 1592.3,461.9 1593.1,443.5 1593.9,466.3 1595.5,439.4 1597.1,461.4 1598.7,438.7 1600.3,457.0 1601.9,447.0 1603.5,446.6 1603.9,461.5 1605.1,457.1 1606.7,442.6 1608.3,453.7 1609.8,438.7 1609.9,448.4 1611.5,455.9 1613.1,445.4 1614.7,455.0 1616.3,436.3 1617.9,455.5 1618.2,463.9 1619.5,443.4 1621.1,445.5 1621.8,436.3 1622.7,451.1 1624.3,437.9 1625.9,454.2 1627.5,434.2 1629.1,463.8 1630.2,466.3 1630.7,432.5 1632.3,459.4 1633.9,432.7 1635.5,453.5 1637.1,447.5 1637.4,431.5 1638.7,439.8 1640.3,455.5 1641.9,433.4 1643.5,466.3 1645.1,455.8 1646.7,437.5 1648.2,461.5 1648.3,452.4 1649.9,431.2 1651.5,463.9 1653.1,440.9 1654.7,455.8 1656.3,432.3 1657.8,427.9 1657.9,435.3 1659.5,448.5 1661.1,438.5 1662.7,446.4 1663.8,463.9 1664.3,459.9 1665.9,456.8 1667.5,454.8 1669.1,433.8 1670.7,452.5 1671.0,431.5 1672.3,433.1 1673.9,446.0 1675.5,448.0 1677.1,446.0 1678.7,449.0 1680.3,443.1 1681.8,431.5 1681.9,438.7 1683.5,435.3 1685.1,438.2 1686.7,443.6 1687.8,447.1 1688.3,434.7 1689.9,438.2 1691.5,443.7 1693.1,431.5 1694.7,440.2 1696.3,429.8 1697.9,431.7 1699.5,443.6 1700.0,429.1 1702.0,445.7 1703.3,431.1 1704.7,432.9 1706.0,444.2 1707.4,432.6 1708.7,438.7 1710.1,440.5 1711.4,428.6 1712.8,438.4 1714.1,432.5 1715.5,438.5 1716.8,430.4 1718.2,442.1 1719.5,425.8 1720.9,440.7 1722.2,429.4 1723.6,442.0 1724.9,429.4 1726.3,439.8 1727.6,428.7 1729.0,436.5 1730.3,431.0 1731.7,439.7 1733.0,429.6 1734.4,428.4 1735.7,438.7 1737.1,425.6 1738.4,435.1 1739.8,423.8 1741.1,426.2 1742.5,436.9 1743.8,427.3 1745.2,438.1 1746.5,427.3 1747.9,437.0 1749.2,428.7 1750.6,427.2 1751.9,438.2 1753.3,422.9 1754.6,434.4 1756.0,427.5 1757.3,437.5 1758.7,425.7 1760.0,436.8 1761.4,427.0 1762.7,431.7 1764.1,423.5 1765.4,435.0 1766.8,436.6 1768.1,422.7 1769.5,421.6 1770.8,434.4 1772.2,420.1 1773.5,420.8 1774.9,434.2 1776.2,422.5 1777.6,429.8 1778.9,420.4 1780.3,424.0 1781.6,432.6 1783.0,423.6 1784.3,422.2 1785.7,431.3 1787.0,422.5 1788.4,430.8 1789.7,422.7 1791.1,430.1 1792.4,429.7 1793.8,419.0 1795.1,429.7 1796.5,420.4 1797.8,427.1 1799.2,421.4 1800.5,427.3 1801.9,421.1 1803.2,429.2 1804.6,419.6 1805.9,430.3 1807.3,418.2 1808.6,430.7 1810.0,417.2 1811.3,426.3 1812.7,417.6 1814.0,424.8 1815.4,418.5 1816.7,426.6 1818.1,417.2 1819.4,428.8 1820.8,417.3 1822.1,427.6 1823.5,425.0 1824.8,419.3 1826.2,426.1 1827.5,417.4 1828.9,413.9 1830.2,426.8 1831.6,426.5 1832.9,417.6 1834.3,425.4 1835.6,426.2 1837.0,413.7 1838.3,425.6 1839.7,413.4 1841.0,423.3 1842.4,414.5 1843.7,423.0 1845.1,424.4 1846.4,416.6 1847.8,422.1 1849.1,416.6 1850.5,422.7 1851.8,413.4 1853.2,413.4 1854.5,424.2 1855.9,414.0 1857.2,424.3 1858.6,413.7 1859.9,421.1 1861.3,415.6 1862.6,421.9 1864.0,415.5 1865.3,425.3 1866.7,414.4 1868.0,421.6 1869.4,416.5 1870.7,423.5 1872.1,424.7 1873.4,422.9 1874.8,424.9 1876.1,412.5 1877.5,413.5 1878.8,416.5 1880.2,424.6 1881.5,412.4 1882.9,422.2 1884.2,422.2 1885.6,413.8 1886.9,421.9 1888.3,412.8 1889.6,421.7 1891.0,421.6 1892.3,411.4 1893.7,419.8 1895.0,433.0 1896.4,423.5 1897.7,411.4 1899.1,423.0 1900.4,415.7 1901.8,421.7 1903.1,412.9 1904.5,423.2 1905.8,421.2 1907.2,415.5 1908.5,411.6 1909.9,418.8 1911.2,422.5 1912.6,413.2 1913.9,422.1 1915.3,415.5 1916.6,411.8 1918.0,422.3 1919.3,413.9 1920.7,418.5 1922.0,414.2 1923.4,420.7 1924.7,412.3 1926.1,419.3 1927.4,414.4 1928.8,414.1 1930.1,421.6 1931.5,414.1 1932.8,419.2 1934.2,414.0 1935.5,418.8 1936.9,413.7 1938.2,421.1 1939.6,411.5 1940.9,418.2 1942.3,413.9 1943.6,419.6 1945.0,413.3 1946.3,421.7 1947.7,413.1 1949.0,411.4 1950.4,419.1 1951.7,413.1 1953.1,420.1 1954.4,412.6 1955.8,417.5 1957.1,413.0 1958.5,410.7 1959.8,413.7 1961.2,421.4 1962.5,413.1 1963.9,417.8 1965.2,410.5 1966.6,417.7 1967.9,410.7 1969.3,421.0 1970.6,412.8 1972.0,413.2 1973.3,417.3 1974.7,412.8 1976.0,413.0 1977.4,417.4 1978.7,412.0 1980.1,419.9 1981.4,410.3 1982.8,413.2 1984.1,412.8 1985.5,420.4 1986.8,413.3 1988.2,418.9 1989.5,410.8 1990.9,418.4 1992.2,410.5 1993.6,417.2 1994.9,410.0 1996.3,410.8 1997.6,416.6 1999.0,417.0" fill="none" stroke="#FF0000" stroke-width="3.6" stroke-linejoin="round" stroke-linecap="round"/>
<line x1="1484" y1="146.6" x2="1999" y2="136.6" stroke="#7F7F7F" stroke-width="5.2" stroke-dasharray="16 6.4"/>
<line x1="1484" y1="233.3" x2="1999" y2="225.6" stroke="#7F7F7F" stroke-width="5.2" stroke-dasharray="16 6.4"/>
<line x1="1484" y1="333.1" x2="1999" y2="323.1" stroke="#7F7F7F" stroke-width="5.2" stroke-dasharray="16 6.4"/>
<line x1="1478.5" y1="429.7" x2="1999" y2="414.4" stroke="#7F7F7F" stroke-width="5.2" stroke-dasharray="15.4 7.9"/>
<rect x="1480.4" y="62.3" width="519.6" height="405.1" fill="none" stroke="#000" stroke-width="4.0"/>
<line x1="1480.40" y1="62.30" x2="1480.40" y2="68.90" stroke="#000" stroke-width="3.4"/>
<line x1="1480.40" y1="467.40" x2="1480.40" y2="475.80" stroke="#000" stroke-width="3.4"/>
<line x1="1493.72" y1="62.30" x2="1493.72" y2="65.30" stroke="#000" stroke-width="3.4"/>
<line x1="1493.72" y1="467.40" x2="1493.72" y2="471.40" stroke="#000" stroke-width="3.4"/>
<line x1="1507.05" y1="62.30" x2="1507.05" y2="65.30" stroke="#000" stroke-width="3.4"/>
<line x1="1507.05" y1="467.40" x2="1507.05" y2="471.40" stroke="#000" stroke-width="3.4"/>
<line x1="1520.37" y1="62.30" x2="1520.37" y2="65.30" stroke="#000" stroke-width="3.4"/>
<line x1="1520.37" y1="467.40" x2="1520.37" y2="471.40" stroke="#000" stroke-width="3.4"/>
<line x1="1533.69" y1="62.30" x2="1533.69" y2="68.90" stroke="#000" stroke-width="3.4"/>
<line x1="1533.69" y1="467.40" x2="1533.69" y2="475.80" stroke="#000" stroke-width="3.4"/>
<line x1="1547.02" y1="62.30" x2="1547.02" y2="65.30" stroke="#000" stroke-width="3.4"/>
<line x1="1547.02" y1="467.40" x2="1547.02" y2="471.40" stroke="#000" stroke-width="3.4"/>
<line x1="1560.34" y1="62.30" x2="1560.34" y2="65.30" stroke="#000" stroke-width="3.4"/>
<line x1="1560.34" y1="467.40" x2="1560.34" y2="471.40" stroke="#000" stroke-width="3.4"/>
<line x1="1573.66" y1="62.30" x2="1573.66" y2="65.30" stroke="#000" stroke-width="3.4"/>
<line x1="1573.66" y1="467.40" x2="1573.66" y2="471.40" stroke="#000" stroke-width="3.4"/>
<line x1="1586.98" y1="62.30" x2="1586.98" y2="65.30" stroke="#000" stroke-width="3.4"/>
<line x1="1586.98" y1="467.40" x2="1586.98" y2="471.40" stroke="#000" stroke-width="3.4"/>
<line x1="1600.31" y1="62.30" x2="1600.31" y2="68.90" stroke="#000" stroke-width="3.4"/>
<line x1="1600.31" y1="467.40" x2="1600.31" y2="475.80" stroke="#000" stroke-width="3.4"/>
<line x1="1613.63" y1="62.30" x2="1613.63" y2="65.30" stroke="#000" stroke-width="3.4"/>
<line x1="1613.63" y1="467.40" x2="1613.63" y2="471.40" stroke="#000" stroke-width="3.4"/>
<line x1="1626.95" y1="62.30" x2="1626.95" y2="65.30" stroke="#000" stroke-width="3.4"/>
<line x1="1626.95" y1="467.40" x2="1626.95" y2="471.40" stroke="#000" stroke-width="3.4"/>
<line x1="1640.28" y1="62.30" x2="1640.28" y2="65.30" stroke="#000" stroke-width="3.4"/>
<line x1="1640.28" y1="467.40" x2="1640.28" y2="471.40" stroke="#000" stroke-width="3.4"/>
<line x1="1653.60" y1="62.30" x2="1653.60" y2="65.30" stroke="#000" stroke-width="3.4"/>
<line x1="1653.60" y1="467.40" x2="1653.60" y2="471.40" stroke="#000" stroke-width="3.4"/>
<line x1="1666.92" y1="62.30" x2="1666.92" y2="68.90" stroke="#000" stroke-width="3.4"/>
<line x1="1666.92" y1="467.40" x2="1666.92" y2="475.80" stroke="#000" stroke-width="3.4"/>
<line x1="1680.25" y1="62.30" x2="1680.25" y2="65.30" stroke="#000" stroke-width="3.4"/>
<line x1="1680.25" y1="467.40" x2="1680.25" y2="471.40" stroke="#000" stroke-width="3.4"/>
<line x1="1693.57" y1="62.30" x2="1693.57" y2="65.30" stroke="#000" stroke-width="3.4"/>
<line x1="1693.57" y1="467.40" x2="1693.57" y2="471.40" stroke="#000" stroke-width="3.4"/>
<line x1="1706.89" y1="62.30" x2="1706.89" y2="65.30" stroke="#000" stroke-width="3.4"/>
<line x1="1706.89" y1="467.40" x2="1706.89" y2="471.40" stroke="#000" stroke-width="3.4"/>
<line x1="1720.22" y1="62.30" x2="1720.22" y2="65.30" stroke="#000" stroke-width="3.4"/>
<line x1="1720.22" y1="467.40" x2="1720.22" y2="471.40" stroke="#000" stroke-width="3.4"/>
<line x1="1733.54" y1="62.30" x2="1733.54" y2="68.90" stroke="#000" stroke-width="3.4"/>
<line x1="1733.54" y1="467.40" x2="1733.54" y2="475.80" stroke="#000" stroke-width="3.4"/>
<line x1="1746.86" y1="62.30" x2="1746.86" y2="65.30" stroke="#000" stroke-width="3.4"/>
<line x1="1746.86" y1="467.40" x2="1746.86" y2="471.40" stroke="#000" stroke-width="3.4"/>
<line x1="1760.18" y1="62.30" x2="1760.18" y2="65.30" stroke="#000" stroke-width="3.4"/>
<line x1="1760.18" y1="467.40" x2="1760.18" y2="471.40" stroke="#000" stroke-width="3.4"/>
<line x1="1773.51" y1="62.30" x2="1773.51" y2="65.30" stroke="#000" stroke-width="3.4"/>
<line x1="1773.51" y1="467.40" x2="1773.51" y2="471.40" stroke="#000" stroke-width="3.4"/>
<line x1="1786.83" y1="62.30" x2="1786.83" y2="65.30" stroke="#000" stroke-width="3.4"/>
<line x1="1786.83" y1="467.40" x2="1786.83" y2="471.40" stroke="#000" stroke-width="3.4"/>
<line x1="1800.15" y1="62.30" x2="1800.15" y2="68.90" stroke="#000" stroke-width="3.4"/>
<line x1="1800.15" y1="467.40" x2="1800.15" y2="475.80" stroke="#000" stroke-width="3.4"/>
<line x1="1813.48" y1="62.30" x2="1813.48" y2="65.30" stroke="#000" stroke-width="3.4"/>
<line x1="1813.48" y1="467.40" x2="1813.48" y2="471.40" stroke="#000" stroke-width="3.4"/>
<line x1="1826.80" y1="62.30" x2="1826.80" y2="65.30" stroke="#000" stroke-width="3.4"/>
<line x1="1826.80" y1="467.40" x2="1826.80" y2="471.40" stroke="#000" stroke-width="3.4"/>
<line x1="1840.12" y1="62.30" x2="1840.12" y2="65.30" stroke="#000" stroke-width="3.4"/>
<line x1="1840.12" y1="467.40" x2="1840.12" y2="471.40" stroke="#000" stroke-width="3.4"/>
<line x1="1853.45" y1="62.30" x2="1853.45" y2="65.30" stroke="#000" stroke-width="3.4"/>
<line x1="1853.45" y1="467.40" x2="1853.45" y2="471.40" stroke="#000" stroke-width="3.4"/>
<line x1="1866.77" y1="62.30" x2="1866.77" y2="68.90" stroke="#000" stroke-width="3.4"/>
<line x1="1866.77" y1="467.40" x2="1866.77" y2="475.80" stroke="#000" stroke-width="3.4"/>
<line x1="1880.09" y1="62.30" x2="1880.09" y2="65.30" stroke="#000" stroke-width="3.4"/>
<line x1="1880.09" y1="467.40" x2="1880.09" y2="471.40" stroke="#000" stroke-width="3.4"/>
<line x1="1893.42" y1="62.30" x2="1893.42" y2="65.30" stroke="#000" stroke-width="3.4"/>
<line x1="1893.42" y1="467.40" x2="1893.42" y2="471.40" stroke="#000" stroke-width="3.4"/>
<line x1="1906.74" y1="62.30" x2="1906.74" y2="65.30" stroke="#000" stroke-width="3.4"/>
<line x1="1906.74" y1="467.40" x2="1906.74" y2="471.40" stroke="#000" stroke-width="3.4"/>
<line x1="1920.06" y1="62.30" x2="1920.06" y2="65.30" stroke="#000" stroke-width="3.4"/>
<line x1="1920.06" y1="467.40" x2="1920.06" y2="471.40" stroke="#000" stroke-width="3.4"/>
<line x1="1933.38" y1="62.30" x2="1933.38" y2="68.90" stroke="#000" stroke-width="3.4"/>
<line x1="1933.38" y1="467.40" x2="1933.38" y2="475.80" stroke="#000" stroke-width="3.4"/>
<line x1="1946.71" y1="62.30" x2="1946.71" y2="65.30" stroke="#000" stroke-width="3.4"/>
<line x1="1946.71" y1="467.40" x2="1946.71" y2="471.40" stroke="#000" stroke-width="3.4"/>
<line x1="1960.03" y1="62.30" x2="1960.03" y2="65.30" stroke="#000" stroke-width="3.4"/>
<line x1="1960.03" y1="467.40" x2="1960.03" y2="471.40" stroke="#000" stroke-width="3.4"/>
<line x1="1973.35" y1="62.30" x2="1973.35" y2="65.30" stroke="#000" stroke-width="3.4"/>
<line x1="1973.35" y1="467.40" x2="1973.35" y2="471.40" stroke="#000" stroke-width="3.4"/>
<line x1="1986.68" y1="62.30" x2="1986.68" y2="65.30" stroke="#000" stroke-width="3.4"/>
<line x1="1986.68" y1="467.40" x2="1986.68" y2="471.40" stroke="#000" stroke-width="3.4"/>
<line x1="2000.00" y1="62.30" x2="2000.00" y2="68.90" stroke="#000" stroke-width="3.4"/>
<line x1="2000.00" y1="467.40" x2="2000.00" y2="475.80" stroke="#000" stroke-width="3.4"/>
<line x1="1480.40" y1="467.40" x2="1471.40" y2="467.40" stroke="#000" stroke-width="3.4"/>
<line x1="2000.00" y1="467.40" x2="1991.80" y2="467.40" stroke="#000" stroke-width="3.4"/>
<line x1="1480.40" y1="443.57" x2="1475.80" y2="443.57" stroke="#000" stroke-width="3.4"/>
<line x1="2000.00" y1="443.57" x2="1995.30" y2="443.57" stroke="#000" stroke-width="3.4"/>
<line x1="1480.40" y1="419.74" x2="1475.80" y2="419.74" stroke="#000" stroke-width="3.4"/>
<line x1="2000.00" y1="419.74" x2="1995.30" y2="419.74" stroke="#000" stroke-width="3.4"/>
<line x1="1480.40" y1="395.91" x2="1475.80" y2="395.91" stroke="#000" stroke-width="3.4"/>
<line x1="2000.00" y1="395.91" x2="1995.30" y2="395.91" stroke="#000" stroke-width="3.4"/>
<line x1="1480.40" y1="372.08" x2="1471.40" y2="372.08" stroke="#000" stroke-width="3.4"/>
<line x1="2000.00" y1="372.08" x2="1991.80" y2="372.08" stroke="#000" stroke-width="3.4"/>
<line x1="1480.40" y1="348.25" x2="1475.80" y2="348.25" stroke="#000" stroke-width="3.4"/>
<line x1="2000.00" y1="348.25" x2="1995.30" y2="348.25" stroke="#000" stroke-width="3.4"/>
<line x1="1480.40" y1="324.42" x2="1475.80" y2="324.42" stroke="#000" stroke-width="3.4"/>
<line x1="2000.00" y1="324.42" x2="1995.30" y2="324.42" stroke="#000" stroke-width="3.4"/>
<line x1="1480.40" y1="300.59" x2="1475.80" y2="300.59" stroke="#000" stroke-width="3.4"/>
<line x1="2000.00" y1="300.59" x2="1995.30" y2="300.59" stroke="#000" stroke-width="3.4"/>
<line x1="1480.40" y1="276.76" x2="1471.40" y2="276.76" stroke="#000" stroke-width="3.4"/>
<line x1="2000.00" y1="276.76" x2="1991.80" y2="276.76" stroke="#000" stroke-width="3.4"/>
<line x1="1480.40" y1="252.94" x2="1475.80" y2="252.94" stroke="#000" stroke-width="3.4"/>
<line x1="2000.00" y1="252.94" x2="1995.30" y2="252.94" stroke="#000" stroke-width="3.4"/>
<line x1="1480.40" y1="229.11" x2="1475.80" y2="229.11" stroke="#000" stroke-width="3.4"/>
<line x1="2000.00" y1="229.11" x2="1995.30" y2="229.11" stroke="#000" stroke-width="3.4"/>
<line x1="1480.40" y1="205.28" x2="1475.80" y2="205.28" stroke="#000" stroke-width="3.4"/>
<line x1="2000.00" y1="205.28" x2="1995.30" y2="205.28" stroke="#000" stroke-width="3.4"/>
<line x1="1480.40" y1="181.45" x2="1471.40" y2="181.45" stroke="#000" stroke-width="3.4"/>
<line x1="2000.00" y1="181.45" x2="1991.80" y2="181.45" stroke="#000" stroke-width="3.4"/>
<line x1="1480.40" y1="157.62" x2="1475.80" y2="157.62" stroke="#000" stroke-width="3.4"/>
<line x1="2000.00" y1="157.62" x2="1995.30" y2="157.62" stroke="#000" stroke-width="3.4"/>
<line x1="1480.40" y1="133.79" x2="1475.80" y2="133.79" stroke="#000" stroke-width="3.4"/>
<line x1="2000.00" y1="133.79" x2="1995.30" y2="133.79" stroke="#000" stroke-width="3.4"/>
<line x1="1480.40" y1="109.96" x2="1475.80" y2="109.96" stroke="#000" stroke-width="3.4"/>
<line x1="2000.00" y1="109.96" x2="1995.30" y2="109.96" stroke="#000" stroke-width="3.4"/>
<line x1="1480.40" y1="86.13" x2="1475.80" y2="86.13" stroke="#000" stroke-width="3.4"/>
<line x1="2000.00" y1="86.13" x2="1995.30" y2="86.13" stroke="#000" stroke-width="3.4"/>
<line x1="1480.40" y1="62.30" x2="1471.40" y2="62.30" stroke="#000" stroke-width="3.4"/>
<line x1="2000.00" y1="62.30" x2="1991.80" y2="62.30" stroke="#000" stroke-width="3.4"/>
<text x="1483.5" y="39" font-size="53" font-weight="bold">c</text>
<text x="1473.8" y="515.3" font-size="38.6" text-anchor="middle">0.2</text>
<text x="1534.2" y="515.3" font-size="38.6" text-anchor="middle">1</text>
<text x="1600.8" y="515.3" font-size="38.6" text-anchor="middle">2</text>
<text x="1667.4" y="515.3" font-size="38.6" text-anchor="middle">3</text>
<text x="1734.0" y="515.3" font-size="38.6" text-anchor="middle">4</text>
<text x="1800.7" y="515.3" font-size="38.6" text-anchor="middle">5</text>
<text x="1867.3" y="515.3" font-size="38.6" text-anchor="middle">6</text>
<text x="1933.9" y="515.3" font-size="38.6" text-anchor="middle">7</text>
<text x="1998.0" y="515.3" font-size="38.6" text-anchor="middle">8</text>
<text x="1730.5" y="563" font-size="40.8" text-anchor="middle">Wavenumber (10<tspan font-size="26.5" dy="-14">3</tspan><tspan dy="14"> cm</tspan><tspan font-size="26.5" dy="-14"><tspan font-weight="bold">–</tspan>1</tspan><tspan dy="14">)</tspan></text>
<text x="1438" y="272.5" font-size="39.2" text-anchor="middle" transform="rotate(-90 1438 272.5)">Change in spectrum IL/LCO</text>
<text x="1759.5" y="113.7" font-size="40.6">E<tspan font-weight="bold" dx="0.6">–</tspan><tspan dx="0.8">D</tspan></text>
<text x="1759.5" y="219" font-size="40.6">D<tspan font-weight="bold" dx="0.6">–</tspan><tspan dx="0.8">C</tspan></text>
<text x="1759.5" y="306.9" font-size="40.6">C<tspan font-weight="bold" dx="0.6">–</tspan><tspan dx="0.8">B</tspan></text>
<text x="1759.5" y="406.1" font-size="40.6">B<tspan font-weight="bold" dx="0.6">–</tspan><tspan dx="0.8">A</tspan></text>
<text x="1508" y="399.1" font-size="40">10 counts</text>
<rect x="1487" y="371.3" width="13.8" height="24.6" fill="#000"/>
</g>
<g id="panel-d">
<polyline points="420.3,997.0 524.0,997.0 524.0,726.7 627.3,726.7 627.3,997.0 733.0,997.0 733.0,726.7 839.3,726.7 839.3,997.0 938.6,997.0" fill="none" stroke="#000" stroke-width="3.6" stroke-linejoin="miter" stroke-linecap="round" stroke-miterlimit="10"/>
<rect x="420.3" y="658.3" width="518.3" height="406.6" fill="none" stroke="#000" stroke-width="3.9"/>
<line x1="420.30" y1="658.30" x2="420.30" y2="666.45" stroke="#000" stroke-width="3.4"/>
<line x1="420.30" y1="1064.90" x2="420.30" y2="1072.25" stroke="#000" stroke-width="3.4"/>
<line x1="501.20" y1="658.30" x2="501.20" y2="666.45" stroke="#000" stroke-width="3.4"/>
<line x1="501.20" y1="1064.90" x2="501.20" y2="1072.25" stroke="#000" stroke-width="3.4"/>
<line x1="582.10" y1="658.30" x2="582.10" y2="666.45" stroke="#000" stroke-width="3.4"/>
<line x1="582.10" y1="1064.90" x2="582.10" y2="1072.25" stroke="#000" stroke-width="3.4"/>
<line x1="663.00" y1="658.30" x2="663.00" y2="666.45" stroke="#000" stroke-width="3.4"/>
<line x1="663.00" y1="1064.90" x2="663.00" y2="1072.25" stroke="#000" stroke-width="3.4"/>
<line x1="743.90" y1="658.30" x2="743.90" y2="666.45" stroke="#000" stroke-width="3.4"/>
<line x1="743.90" y1="1064.90" x2="743.90" y2="1072.25" stroke="#000" stroke-width="3.4"/>
<line x1="824.80" y1="658.30" x2="824.80" y2="666.45" stroke="#000" stroke-width="3.4"/>
<line x1="824.80" y1="1064.90" x2="824.80" y2="1072.25" stroke="#000" stroke-width="3.4"/>
<line x1="905.70" y1="658.30" x2="905.70" y2="666.45" stroke="#000" stroke-width="3.4"/>
<line x1="905.70" y1="1064.90" x2="905.70" y2="1072.25" stroke="#000" stroke-width="3.4"/>
<line x1="420.30" y1="1064.58" x2="415.75" y2="1064.58" stroke="#000" stroke-width="3.4"/>
<line x1="938.60" y1="1064.58" x2="934.05" y2="1064.58" stroke="#000" stroke-width="3.4"/>
<line x1="420.30" y1="997.00" x2="411.35" y2="997.00" stroke="#000" stroke-width="3.4"/>
<line x1="938.60" y1="997.00" x2="930.15" y2="997.00" stroke="#000" stroke-width="3.4"/>
<line x1="420.30" y1="929.42" x2="415.75" y2="929.42" stroke="#000" stroke-width="3.4"/>
<line x1="938.60" y1="929.42" x2="934.05" y2="929.42" stroke="#000" stroke-width="3.4"/>
<line x1="420.30" y1="861.85" x2="411.35" y2="861.85" stroke="#000" stroke-width="3.4"/>
<line x1="938.60" y1="861.85" x2="930.15" y2="861.85" stroke="#000" stroke-width="3.4"/>
<line x1="420.30" y1="794.28" x2="415.75" y2="794.28" stroke="#000" stroke-width="3.4"/>
<line x1="938.60" y1="794.28" x2="934.05" y2="794.28" stroke="#000" stroke-width="3.4"/>
<line x1="420.30" y1="726.70" x2="411.35" y2="726.70" stroke="#000" stroke-width="3.4"/>
<line x1="938.60" y1="726.70" x2="930.15" y2="726.70" stroke="#000" stroke-width="3.4"/>
<line x1="420.30" y1="659.12" x2="415.75" y2="659.12" stroke="#000" stroke-width="3.4"/>
<line x1="938.60" y1="659.12" x2="934.05" y2="659.12" stroke="#000" stroke-width="3.4"/>
<text x="422" y="635.6" font-size="53" font-weight="bold">d</text>
<text x="419.3" y="1113.5" font-size="38.6" text-anchor="middle">0</text>
<text x="498.2" y="1113.5" font-size="38.6" text-anchor="middle">0.5</text>
<text x="579.1" y="1113.5" font-size="38.6" text-anchor="middle">1</text>
<text x="660.0" y="1113.5" font-size="38.6" text-anchor="middle">1.5</text>
<text x="740.9" y="1113.5" font-size="38.6" text-anchor="middle">2</text>
<text x="821.8" y="1113.5" font-size="38.6" text-anchor="middle">2.5</text>
<text x="902.7" y="1113.5" font-size="38.6" text-anchor="middle">3</text>
<text x="400" y="1009.3" font-size="38.6" text-anchor="end">0</text>
<text x="400" y="874.1" font-size="38.6" text-anchor="end">1</text>
<text x="400" y="739.0" font-size="38.6" text-anchor="end">2</text>
<text x="665.3" y="1158.6" font-size="41" text-anchor="middle">Time (10<tspan font-size="26.5" dy="-14">3</tspan><tspan dy="14"> s)</tspan></text>
<text x="361.6" y="884" font-size="40" text-anchor="middle" transform="rotate(-90 361.6 884)"><tspan font-style="italic">V</tspan> (V)</text>
<text x="467.4" y="1038.8" font-size="39.5" text-anchor="middle">A</text>
<text x="575.0" y="717.2" font-size="39.5" text-anchor="middle">B</text>
<text x="680.8" y="1037.6" font-size="39.5" text-anchor="middle">C</text>
<text x="785.0" y="716.6" font-size="39.5" text-anchor="middle">D</text>
<text x="881.0" y="1037.8" font-size="39.5" text-anchor="middle">E</text>
</g>
<g id="panel-e">
<rect x="1185.0" y="655.4" width="522.3" height="405.4" fill="none" stroke="#000" stroke-width="4.2"/>
<line x1="1185.00" y1="737.50" x2="1707.30" y2="737.50" stroke="#000" stroke-width="4.0"/>
<line x1="1185.00" y1="655.40" x2="1185.00" y2="663.80" stroke="#000" stroke-width="3.3"/>
<line x1="1185.00" y1="1060.80" x2="1185.00" y2="1069.30" stroke="#000" stroke-width="3.3"/>
<line x1="1250.29" y1="655.40" x2="1250.29" y2="659.80" stroke="#000" stroke-width="3.3"/>
<line x1="1250.29" y1="1060.80" x2="1250.29" y2="1065.10" stroke="#000" stroke-width="3.3"/>
<line x1="1315.58" y1="655.40" x2="1315.58" y2="663.80" stroke="#000" stroke-width="3.3"/>
<line x1="1315.58" y1="1060.80" x2="1315.58" y2="1069.30" stroke="#000" stroke-width="3.3"/>
<line x1="1380.86" y1="655.40" x2="1380.86" y2="659.80" stroke="#000" stroke-width="3.3"/>
<line x1="1380.86" y1="1060.80" x2="1380.86" y2="1065.10" stroke="#000" stroke-width="3.3"/>
<line x1="1446.15" y1="655.40" x2="1446.15" y2="663.80" stroke="#000" stroke-width="3.3"/>
<line x1="1446.15" y1="1060.80" x2="1446.15" y2="1069.30" stroke="#000" stroke-width="3.3"/>
<line x1="1511.44" y1="655.40" x2="1511.44" y2="659.80" stroke="#000" stroke-width="3.3"/>
<line x1="1511.44" y1="1060.80" x2="1511.44" y2="1065.10" stroke="#000" stroke-width="3.3"/>
<line x1="1576.72" y1="655.40" x2="1576.72" y2="663.80" stroke="#000" stroke-width="3.3"/>
<line x1="1576.72" y1="1060.80" x2="1576.72" y2="1069.30" stroke="#000" stroke-width="3.3"/>
<line x1="1642.01" y1="655.40" x2="1642.01" y2="659.80" stroke="#000" stroke-width="3.3"/>
<line x1="1642.01" y1="1060.80" x2="1642.01" y2="1065.10" stroke="#000" stroke-width="3.3"/>
<line x1="1707.30" y1="655.40" x2="1707.30" y2="663.80" stroke="#000" stroke-width="3.3"/>
<line x1="1707.30" y1="1060.80" x2="1707.30" y2="1069.30" stroke="#000" stroke-width="3.3"/>
<line x1="1185.00" y1="655.40" x2="1176.60" y2="655.40" stroke="#000" stroke-width="3.6"/>
<line x1="1707.30" y1="655.40" x2="1715.70" y2="655.40" stroke="#000" stroke-width="3.6"/>
<line x1="1185.00" y1="737.50" x2="1176.60" y2="737.50" stroke="#000" stroke-width="3.6"/>
<line x1="1707.30" y1="737.50" x2="1715.70" y2="737.50" stroke="#000" stroke-width="3.6"/>
<line x1="1185.00" y1="817.56" x2="1176.60" y2="817.56" stroke="#000" stroke-width="3.6"/>
<line x1="1707.30" y1="817.56" x2="1715.70" y2="817.56" stroke="#000" stroke-width="3.6"/>
<line x1="1185.00" y1="898.64" x2="1176.60" y2="898.64" stroke="#000" stroke-width="3.6"/>
<line x1="1707.30" y1="898.64" x2="1715.70" y2="898.64" stroke="#000" stroke-width="3.6"/>
<line x1="1185.00" y1="979.72" x2="1176.60" y2="979.72" stroke="#000" stroke-width="3.6"/>
<line x1="1707.30" y1="979.72" x2="1715.70" y2="979.72" stroke="#000" stroke-width="3.6"/>
<line x1="1185.00" y1="1060.80" x2="1176.60" y2="1060.80" stroke="#000" stroke-width="3.6"/>
<line x1="1707.30" y1="1060.80" x2="1715.70" y2="1060.80" stroke="#000" stroke-width="3.6"/>
<line x1="1185.00" y1="680.00" x2="1185.00" y2="793.00" stroke="#000" stroke-width="5.6"/>
<line x1="1170.60" y1="680.00" x2="1197.00" y2="680.00" stroke="#000" stroke-width="5.3"/>
<line x1="1170.60" y1="793.00" x2="1197.00" y2="793.00" stroke="#000" stroke-width="5.3"/>
<rect x="1171.8" y="725.9" width="26.4" height="23.4" fill="#FF8000" stroke="#000" stroke-width="5.1"/>
<line x1="1445.60" y1="680.00" x2="1445.60" y2="793.00" stroke="#000" stroke-width="5.6"/>
<line x1="1432.40" y1="680.00" x2="1458.80" y2="680.00" stroke="#000" stroke-width="5.3"/>
<line x1="1432.40" y1="793.00" x2="1458.80" y2="793.00" stroke="#000" stroke-width="5.3"/>
<rect x="1432.4" y="725.9" width="26.4" height="23.4" fill="#FF8000" stroke="#000" stroke-width="5.1"/>
<line x1="1576.50" y1="728.60" x2="1576.50" y2="841.40" stroke="#000" stroke-width="5.6"/>
<line x1="1563.30" y1="728.60" x2="1589.70" y2="728.60" stroke="#000" stroke-width="5.3"/>
<line x1="1563.30" y1="841.40" x2="1589.70" y2="841.40" stroke="#000" stroke-width="5.3"/>
<rect x="1563.3" y="774.7" width="26.4" height="23.4" fill="#FF8000" stroke="#000" stroke-width="5.1"/>
<line x1="1706.50" y1="921.90" x2="1706.50" y2="1036.60" stroke="#000" stroke-width="5.6"/>
<line x1="1693.30" y1="921.90" x2="1719.70" y2="921.90" stroke="#000" stroke-width="5.3"/>
<line x1="1693.30" y1="1036.60" x2="1719.70" y2="1036.60" stroke="#000" stroke-width="5.3"/>
<rect x="1693.3" y="968.5" width="26.4" height="23.4" fill="#FF8000" stroke="#000" stroke-width="5.1"/>
<text x="1180.5" y="634" font-size="53" font-weight="bold">e</text>
<text x="1165" y="665.4" font-size="38.6" text-anchor="end">5</text>
<text x="1165" y="746.5" font-size="38.6" text-anchor="end">0</text>
<text x="1165" y="827.6" font-size="38.6" text-anchor="end"><tspan font-weight="bold" dx="0.6">–</tspan><tspan dx="0.8">5</tspan></text>
<text x="1165" y="908.6" font-size="38.6" text-anchor="end"><tspan font-weight="bold" dx="0.6">–</tspan><tspan dx="0.8">10</tspan></text>
<text x="1165" y="989.7" font-size="38.6" text-anchor="end"><tspan font-weight="bold" dx="0.6">–</tspan><tspan dx="0.8">15</tspan></text>
<text x="1165" y="1070.8" font-size="38.6" text-anchor="end"><tspan font-weight="bold" dx="0.6">–</tspan><tspan dx="0.8">20</tspan></text>
<text x="1181.7" y="1109.4" font-size="38.6" text-anchor="middle">0.0</text>
<text x="1312.3" y="1109.4" font-size="38.6" text-anchor="middle">0.5</text>
<text x="1442.9" y="1109.4" font-size="38.6" text-anchor="middle">1.0</text>
<text x="1573.4" y="1109.4" font-size="38.6" text-anchor="middle">1.5</text>
<text x="1704.0" y="1109.4" font-size="38.6" text-anchor="middle">2.0</text>
<text x="1445" y="1158.3" font-size="41" text-anchor="middle"><tspan font-style="italic">V</tspan> (V)</text>
<text x="1037.8" y="865.6" font-size="40.8" text-anchor="middle" transform="rotate(-90 1037.8 865.6)">Change in intensity</text>
<text x="1086.4" y="867.5" font-size="40.65" text-anchor="middle" transform="rotate(-90 1086.4 867.5)">(counts; at ~2000 cm<tspan font-size="26" dy="-13.7"><tspan font-weight="bold">–</tspan>1</tspan><tspan dy="13.7">)</tspan></text>
</g>
</svg>
</body></html>
